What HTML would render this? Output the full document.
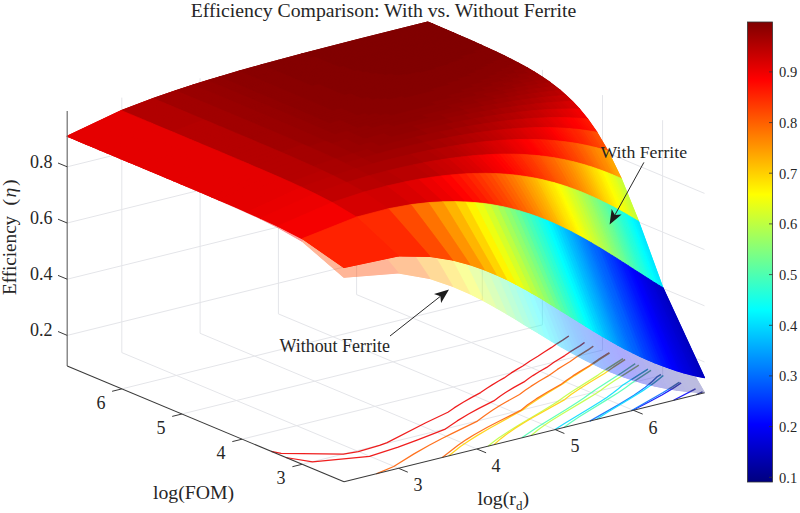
<!DOCTYPE html>
<html lang="en"><head><meta charset="utf-8"><title>Efficiency Comparison: With vs. Without Ferrite</title>
<style>html,body{margin:0;padding:0;background:#fff;}body{width:800px;height:513px;overflow:hidden;position:relative;font-family:"Liberation Serif",serif;}</style>
</head><body>
<svg width="800" height="513" viewBox="0 0 800 513" style="position:absolute;left:0;top:0">
<rect width="800" height="513" fill="#fff"/>
<g id="grid"><line x1="302.1" y1="464.3" x2="662.6" y2="375.2" stroke="#e4e5e9" stroke-width="1"/><line x1="398.6" y1="468.3" x2="121.8" y2="352.6" stroke="#e4e5e9" stroke-width="1"/><line x1="121.8" y1="352.6" x2="121.8" y2="97.6" stroke="#e4e5e9" stroke-width="1"/><line x1="662.6" y1="375.2" x2="662.6" y2="120.2" stroke="#e4e5e9" stroke-width="1"/><line x1="242.0" y1="439.2" x2="602.5" y2="350.1" stroke="#e4e5e9" stroke-width="1"/><line x1="476.9" y1="449.0" x2="200.1" y2="333.3" stroke="#e4e5e9" stroke-width="1"/><line x1="200.1" y1="333.3" x2="200.1" y2="78.3" stroke="#e4e5e9" stroke-width="1"/><line x1="602.5" y1="350.1" x2="602.5" y2="95.1" stroke="#e4e5e9" stroke-width="1"/><line x1="181.9" y1="414.0" x2="542.4" y2="324.9" stroke="#e4e5e9" stroke-width="1"/><line x1="555.2" y1="429.6" x2="278.4" y2="313.9" stroke="#e4e5e9" stroke-width="1"/><line x1="278.4" y1="313.9" x2="278.4" y2="58.9" stroke="#e4e5e9" stroke-width="1"/><line x1="542.4" y1="324.9" x2="542.4" y2="69.9" stroke="#e4e5e9" stroke-width="1"/><line x1="121.8" y1="388.9" x2="482.3" y2="299.8" stroke="#e4e5e9" stroke-width="1"/><line x1="633.4" y1="410.3" x2="356.6" y2="294.6" stroke="#e4e5e9" stroke-width="1"/><line x1="356.6" y1="294.6" x2="356.6" y2="39.6" stroke="#e4e5e9" stroke-width="1"/><line x1="482.3" y1="299.8" x2="482.3" y2="44.8" stroke="#e4e5e9" stroke-width="1"/><line x1="67.2" y1="335.4" x2="427.7" y2="246.3" stroke="#e4e5e9" stroke-width="1"/><line x1="427.7" y1="246.3" x2="704.5" y2="362.0" stroke="#e4e5e9" stroke-width="1"/><line x1="67.2" y1="279.2" x2="427.7" y2="190.1" stroke="#e4e5e9" stroke-width="1"/><line x1="427.7" y1="190.1" x2="704.5" y2="305.8" stroke="#e4e5e9" stroke-width="1"/><line x1="67.2" y1="223.0" x2="427.7" y2="133.9" stroke="#e4e5e9" stroke-width="1"/><line x1="427.7" y1="133.9" x2="704.5" y2="249.6" stroke="#e4e5e9" stroke-width="1"/><line x1="67.2" y1="166.8" x2="427.7" y2="77.7" stroke="#e4e5e9" stroke-width="1"/><line x1="427.7" y1="77.7" x2="704.5" y2="193.4" stroke="#e4e5e9" stroke-width="1"/></g>
<g id="contours"><g fill="none" stroke-width="1.25" stroke-linejoin="round" stroke-linecap="butt" opacity="0.88"><path d="M702.5 391.9 696.1 394.8" stroke="#00008a"/><path d="M681.1 382.9 672.1 388.9 661.9 395.0 649.4 401.8 632.3 410.5" stroke="#0000fa"/><path d="M660.9 374.5 657.2 376.7 652.0 381.7 645.3 387.3 639.7 391.3 633.9 395.3 627.0 399.6 618.7 404.6 589.8 421.1" stroke="#006cff"/><path d="M647.9 369.1 622.5 385.3 618.4 388.8 613.2 392.8 607.1 397.2 601.0 401.2 590.5 407.8 564.5 423.5 554.6 429.8" stroke="#00dcff"/><path d="M635.2 363.7 621.4 373.0 595.4 389.8 590.5 393.2 583.5 398.3 577.5 402.3 566.5 409.3 539.2 426.0 531.7 430.9 521.8 437.8" stroke="#4dffb2"/><path d="M623.0 358.6 608.2 368.1 598.0 375.1 571.6 391.8 564.3 396.8 558.3 401.1 553.8 404.0 542.0 411.3 518.4 425.3 509.2 431.0 498.6 438.1 492.6 442.6 488.1 446.2" stroke="#beff41"/><path d="M609.6 353.0 599.2 359.7 591.1 365.3 574.7 375.6 568.5 379.8 563.0 383.8 548.9 392.1 537.4 399.4 528.4 405.6 522.7 409.9 489.6 428.3 476.6 435.9 469.0 440.7 460.4 446.6 448.6 455.9" stroke="#ffd000"/><path d="M593.3 346.2 588.0 349.9 577.2 356.6 570.2 361.5 563.2 365.7 557.4 369.4 548.2 375.9 539.0 381.3 530.9 386.4 525.5 390.1 519.5 394.5 506.0 402.0 499.5 405.8 492.4 410.3 484.5 415.7 477.4 421.1 451.8 433.6 441.5 438.7 429.2 445.2 414.0 453.9 393.7 466.5 376.3 473.8" stroke="#ff5f00"/><path d="M568.8 336.0 563.2 339.8 556.1 344.3 551.6 347.4 543.9 352.2 538.3 356.0 529.7 361.2 522.8 366.0 517.4 369.1 511.3 372.9 504.2 377.9 498.6 381.0 491.8 385.1 486.9 388.2 480.6 392.6 471.3 397.6 463.2 402.2 454.1 407.9 447.9 412.2 425.8 422.7 387.1 442.6 379.6 445.3 358.3 451.7 343.4 454.2 281.1 453.4 271.1 451.3" stroke="#ee0000"/><path d="M695.5 388.9 673.6 400.3" stroke="#0000fa"/><path d="M679.4 382.2 672.1 387.0 663.1 392.5 631.2 410.8" stroke="#006cff"/><path d="M663.3 375.5 658.9 379.1 654.3 382.7 648.9 386.6 643.3 390.4 632.0 397.5 606.7 412.8 596.2 419.5" stroke="#00dcff"/><path d="M651.0 370.3 635.0 380.8 625.1 387.9 618.1 392.7 609.5 398.1 579.2 416.8 570.0 423.0 563.9 427.4" stroke="#4dffb2"/><path d="M638.8 365.2 613.5 381.3 605.8 386.5 599.8 390.9 594.4 394.4 584.7 400.4 561.6 414.2 551.1 420.8 545.1 424.8 538.5 429.6 531.1 435.6" stroke="#beff41"/><path d="M625.1 359.5 613.6 367.0 604.4 373.5 589.1 382.7 578.9 389.2 571.0 394.6 564.7 399.6 530.6 418.8 523.2 423.2 514.9 428.4 505.6 434.9 500.5 438.9 493.9 444.8" stroke="#ffd000"/><path d="M609.1 352.8 598.6 359.4 589.8 365.6 580.5 371.1 572.9 375.9 566.6 380.2 561.5 384.1 547.9 391.7 536.2 398.9 527.3 405.1 520.7 410.4 498.5 421.5 487.4 427.3 474.1 434.8 466.3 439.6 457.7 445.5 442.3 457.5" stroke="#ff5f00"/><path d="M584.5 342.5 580.1 345.7 571.1 351.2 564.8 355.6 554.3 362.0 546.7 367.4 539.5 371.5 532.9 375.6 528.6 378.5 524.0 381.9 514.0 387.4 504.8 393.0 499.7 396.4 493.7 400.9 478.4 408.6 468.6 414.0 457.2 420.9 445.3 429.1 417.0 440.1 398.1 447.2 369.5 456.4 312.5 461.9 285.7 457.5" stroke="#ee0000"/></g></g>
<g id="without" opacity="0.4"><g transform="scale(0.1)" stroke-width="12.0" stroke-linejoin="round"><path fill="#810000" stroke="#810000" d="M3142 543l542-140 643-160-50-22-643 161-542 140z"/><path fill="#850000" stroke="#850000" d="M2667 670l475-127-50-21-475 127z"/><path fill="#890000" stroke="#890000" d="M2442 734l225-64-50-21-225 64z"/><path fill="#8d0000" stroke="#8d0000" d="M2245 791l197-57-50-21-197 57z"/><path fill="#910000" stroke="#910000" d="M2125 827l120-36-50-21-120 36z"/><path fill="#950000" stroke="#950000" d="M1982 871l143-44-50-21-143 44z"/><path fill="#990000" stroke="#990000" d="M1807 928l175-57-50-21-175 57z"/><path fill="#a10000" stroke="#a10000" d="M1582 1006l225-78-50-21-225 78z"/><path fill="#b10000" stroke="#b10000" d="M1265 1127l317-121-50-21-317 121z"/><path fill="#e50000" stroke="#e50000" d="M722 1383l543-256-50-21-543 256z"/><path fill="#810000" stroke="#810000" d="M3211 572l543-140 642-160-69-29-643 160-542 140z"/><path fill="#e50000" stroke="#e50000" d="M791 1412l543-256-69-29-543 256z"/><path fill="#810000" stroke="#810000" d="M3281 601l542-139 643-159-70-31-642 160-543 140z"/><path fill="#e50000" stroke="#e50000" d="M861 1441l543-256-70-29-543 256z"/><path fill="#810000" stroke="#810000" d="M3351 631l542-139 643-159-70-30-643 159-542 139z"/><path fill="#e50000" stroke="#e50000" d="M931 1470l543-255-70-30-543 256z"/><path fill="#810000" stroke="#810000" d="M3487 642l543-138 574-140-68-31-575 142-542 138z"/><path fill="#e50000" stroke="#e50000" d="M999 1499l543-256-68-28-543 255z"/><path fill="#810000" stroke="#810000" d="M3553 670l542-137 575-140-66-29-574 140-543 138z"/><path fill="#e50000" stroke="#e50000" d="M1065 1526l543-255-66-28-543 256z"/><path fill="#850000" stroke="#850000" d="M4607 459l137-32-74-34-136 33z"/><path fill="#e50000" stroke="#e50000" d="M1139 1557l542-255-73-31-543 255z"/><path fill="#850000" stroke="#850000" d="M4386 559l427-100-69-32-427 102z"/><path fill="#e50000" stroke="#e50000" d="M1208 1586l543-255-70-29-542 255z"/><path fill="#850000" stroke="#850000" d="M3352 876l739-191 451-108 349-80-78-38-800 192-739 191z"/><path fill="#e50000" stroke="#e50000" d="M1286 1619l543-256-78-32-543 255z"/><path fill="#890000" stroke="#890000" d="M4757 577l205-45-71-35-205 46z"/><path fill="#e50000" stroke="#e50000" d="M1357 1648l542-255-70-30-543 256z"/><path fill="#8d0000" stroke="#8d0000" d="M4977 587l65-13-80-42-65 14z"/><path fill="#e50000" stroke="#e50000" d="M1437 1682l543-255-81-34-542 255z"/><path fill="#8d0000" stroke="#8d0000" d="M4831 668l279-57-68-37-279 59z"/><path fill="#e50000" stroke="#e50000" d="M1505 1711l543-256-68-28-543 255zM1582 1743l543-255-77-33-543 256zM1670 1780l543-255-88-37-543 255zM1737 1808l543-255-67-28-543 255zM1812 1840l543-255-75-32-543 255zM1898 1876l543-254-86-37-543 255zM1999 1919l542-254-100-43-543 254zM2119 1970l543-252-121-53-542 254zM2190 2001l543-251-71-32-543 252zM2270 2036l543-250-80-36-543 251zM2363 2077l543-248-93-43-543 250z"/><path fill="#e90000" stroke="#e90000" d="M2473 2126l542-245-109-52-543 248zM2607 2188l542-238-134-69-542 245z"/><path fill="#f10000" stroke="#f10000" d="M2780 2274l542-226-173-98-542 238z"/><path fill="#ff0200" stroke="#ff0200" d="M3023 2413l543-190-244-175-542 226z"/><path fill="#5959b3" stroke="#5959b3" d="M6980 3923l65 4-417-721-65-32z"/><path fill="#5757b7" stroke="#5757b7" d="M6909 3917l71 6-417-749-71-37z"/><path fill="#5454bb" stroke="#5454bb" d="M6840 3910l69 7-417-780-68-37z"/><path fill="#4f4fc1" stroke="#4f4fc1" d="M6766 3901l74 9-416-810-75-42z"/><path fill="#4b4bc8" stroke="#4b4bc8" d="M6696 3890l70 11-417-843-70-42z"/><path fill="#4747cf" stroke="#4747cf" d="M6619 3875l77 15-417-874-77-46z"/><path fill="#4141da" stroke="#4141da" d="M6548 3860l71 15-417-905-71-44z"/><path fill="#3d3de2" stroke="#3d3de2" d="M6470 3841l78 19-417-934-77-49z"/><path fill="#3737ee" stroke="#3737ee" d="M6402 3823l68 18-416-964-68-44z"/><path fill="#3131fa" stroke="#3131fa" d="M6328 3800l74 23-416-990-75-47z"/><path fill="#2a36ff" stroke="#2a36ff" d="M6245 3772l83 28-417-1014-82-53z"/><path fill="#243eff" stroke="#243eff" d="M6177 3747l68 25-416-1039-69-43z"/><path fill="#1d49ff" stroke="#1d49ff" d="M6103 3717l74 30-417-1057-74-47z"/><path fill="#1458ff" stroke="#1458ff" d="M6020 3681l83 36-417-1074-83-50z"/><path fill="#0c69ff" stroke="#0c69ff" d="M5928 3638l92 43-417-1088-92-55z"/><path fill="#0578ff" stroke="#0578ff" d="M5860 3604l68 34-417-1100-68-39z"/><path fill="#008dff" stroke="#008dff" d="M5785 3565l75 39-417-1105-75-40z"/><path fill="#00a9ff" stroke="#00a9ff" d="M5703 3519l82 46-417-1106-82-43z"/><path fill="#00c5ff" stroke="#00c5ff" d="M5610 3467l93 52-417-1103-92-44z"/><path fill="#00e9ff" stroke="#00e9ff" d="M5506 3405l104 62-416-1095-105-46z"/><path fill="#12ffed" stroke="#12ffed" d="M5385 3331l121 74-417-1079-120-47z"/><path fill="#2affd5" stroke="#2affd5" d="M5317 3290l68 41-416-1052-69-23z"/><path fill="#46ffb9" stroke="#46ffb9" d="M5242 3244l75 46-417-1034-74-24z"/><path fill="#62ff9d" stroke="#62ff9d" d="M5160 3193l82 51-416-1012-83-22z"/><path fill="#81ff7e" stroke="#81ff7e" d="M5068 3138l92 55-417-983-92-21z"/><path fill="#a5ff5a" stroke="#a5ff5a" d="M4963 3077l105 61-417-949-104-19z"/><path fill="#c9ff36" stroke="#c9ff36" d="M4843 3010l120 67-416-907-121-16z"/><path fill="#f5ff0a" stroke="#f5ff0a" d="M4700 2937l143 73-417-856-143-9z"/><path fill="#ffd900" stroke="#ffd900" d="M4525 2861l175 76-417-792-174 0z"/><path fill="#ffa500" stroke="#ffa500" d="M4300 2785l225 76-416-716-226 18z"/><path fill="#ff6e00" stroke="#ff6e00" d="M3983 2728l317 57-417-622-317 60z"/><path fill="#ff4a00" stroke="#ff4a00" d="M3440 2772l543-44-417-505-543 190z"/></g><g transform="scale(0.1)" stroke-width="7.0" stroke-linejoin="round"><path fill="#810000" stroke="#810000" d="M3067 536l543-140 679-170-12-5-679 170-543 140z"/><path fill="#850000" stroke="#850000" d="M2629 654l438-118-12-5-438 118z"/><path fill="#890000" stroke="#890000" d="M2404 718l225-64-12-5-225 64z"/><path fill="#8d0000" stroke="#8d0000" d="M2207 775l197-57-12-5-197 57z"/><path fill="#910000" stroke="#910000" d="M2087 811l120-36-12-5-120 36z"/><path fill="#950000" stroke="#950000" d="M1944 855l143-44-12-5-143 44z"/><path fill="#990000" stroke="#990000" d="M1769 912l175-57-12-5-175 57z"/><path fill="#a10000" stroke="#a10000" d="M1544 990l225-78-12-5-225 78z"/><path fill="#b10000" stroke="#b10000" d="M1227 1111l317-121-12-5-317 121z"/><path fill="#e50000" stroke="#e50000" d="M684 1367l543-256-12-5-543 256z"/><path fill="#810000" stroke="#810000" d="M3086 544l579-149 643-161-19-8-679 170-543 140z"/><path fill="#850000" stroke="#850000" d="M2648 662l438-118-19-8-438 118z"/><path fill="#890000" stroke="#890000" d="M2423 725l225-63-19-8-225 64z"/><path fill="#8d0000" stroke="#8d0000" d="M2226 783l197-58-19-7-197 57z"/><path fill="#910000" stroke="#910000" d="M2105 819l121-36-19-8-120 36z"/><path fill="#950000" stroke="#950000" d="M1963 863l142-44-18-8-143 44z"/><path fill="#990000" stroke="#990000" d="M1788 920l175-57-19-8-175 57z"/><path fill="#a10000" stroke="#a10000" d="M1563 998l225-78-19-8-225 78z"/><path fill="#b10000" stroke="#b10000" d="M1245 1119l318-121-19-8-317 121z"/><path fill="#e50000" stroke="#e50000" d="M703 1375l542-256-18-8-543 256z"/><path fill="#810000" stroke="#810000" d="M3105 552l579-149 643-160-19-9-643 161-579 149z"/><path fill="#850000" stroke="#850000" d="M2667 670l438-118-19-8-438 118z"/><path fill="#990000" stroke="#990000" d="M1807 928l175-57-19-8-175 57z"/><path fill="#a10000" stroke="#a10000" d="M1582 1006l225-78-19-8-225 78z"/><path fill="#e50000" stroke="#e50000" d="M722 1383l543-256-20-8-542 256z"/><path fill="#810000" stroke="#810000" d="M3125 561l579-149 643-161-20-8-643 160-579 149z"/><path fill="#e50000" stroke="#e50000" d="M742 1391l543-255-20-9-543 256z"/><path fill="#810000" stroke="#810000" d="M3146 569l579-149 643-160-21-9-643 161-579 149z"/><path fill="#e50000" stroke="#e50000" d="M763 1400l542-256-20-8-543 255z"/><path fill="#810000" stroke="#810000" d="M3167 578l579-149 643-160-21-9-643 160-579 149z"/><path fill="#e50000" stroke="#e50000" d="M784 1409l543-256-22-9-542 256z"/><path fill="#810000" stroke="#810000" d="M3189 588l579-149 643-160-22-10-643 160-579 149z"/><path fill="#e50000" stroke="#e50000" d="M806 1418l543-256-22-9-543 256z"/><path fill="#810000" stroke="#810000" d="M3212 597l579-149 643-159-23-10-643 160-579 149z"/><path fill="#e50000" stroke="#e50000" d="M829 1428l543-256-23-10-543 256z"/><path fill="#810000" stroke="#810000" d="M3236 608l579-149 643-160-24-10-643 159-579 149z"/><path fill="#e50000" stroke="#e50000" d="M853 1438l543-256-24-10-543 256z"/><path fill="#810000" stroke="#810000" d="M3298 608l577-148 608-150-25-11-608 151-577 148z"/><path fill="#e50000" stroke="#e50000" d="M878 1448l542-256-24-10-543 256z"/><path fill="#810000" stroke="#810000" d="M3324 619l577-147 608-151-26-11-608 150-577 148z"/><path fill="#e50000" stroke="#e50000" d="M904 1459l542-256-26-11-542 256z"/><path fill="#810000" stroke="#810000" d="M3351 631l577-148 608-150-27-12-608 151-577 147z"/><path fill="#e50000" stroke="#e50000" d="M931 1470l543-255-28-12-542 256z"/><path fill="#810000" stroke="#810000" d="M3369 639l578-148 608-150-19-8-608 150-577 148z"/><path fill="#e50000" stroke="#e50000" d="M950 1478l542-256-18-7-543 255z"/><path fill="#810000" stroke="#810000" d="M3389 647l577-147 608-150-19-9-608 150-578 148z"/><path fill="#e50000" stroke="#e50000" d="M969 1486l543-255-20-9-542 256z"/><path fill="#810000" stroke="#810000" d="M3444 646l576-146 574-141-20-9-608 150-542 138z"/><path fill="#e50000" stroke="#e50000" d="M989 1495l543-256-20-8-543 255z"/><path fill="#810000" stroke="#810000" d="M3464 655l576-146 575-141-21-9-574 141-576 146z"/><path fill="#e50000" stroke="#e50000" d="M1010 1503l542-255-20-9-543 256z"/><path fill="#810000" stroke="#810000" d="M3486 664l576-146 574-140-21-10-575 141-576 146z"/><path fill="#e50000" stroke="#e50000" d="M1031 1512l543-255-22-9-542 255z"/><path fill="#810000" stroke="#810000" d="M3541 665l543-137 575-140-23-10-574 140-543 138z"/><path fill="#e50000" stroke="#e50000" d="M1054 1522l542-256-22-9-543 255z"/><path fill="#810000" stroke="#810000" d="M3565 675l542-137 575-140-23-10-575 140-543 137z"/><path fill="#e50000" stroke="#e50000" d="M1077 1531l542-255-23-10-542 256z"/><path fill="#810000" stroke="#810000" d="M3621 677l542-137 543-131-24-11-543 132-542 137z"/><path fill="#e50000" stroke="#e50000" d="M1101 1541l542-255-24-10-542 255z"/><path fill="#850000" stroke="#850000" d="M4666 436l65-15-25-12-66 16z"/><path fill="#e50000" stroke="#e50000" d="M1126 1552l542-256-25-10-542 255z"/><path fill="#850000" stroke="#850000" d="M4582 474l175-41-26-12-175 41z"/><path fill="#e50000" stroke="#e50000" d="M1152 1563l543-256-27-11-542 256z"/><path fill="#850000" stroke="#850000" d="M4505 511l279-66-27-12-279 66z"/><path fill="#e50000" stroke="#e50000" d="M1179 1574l543-255-27-12-543 256z"/><path fill="#850000" stroke="#850000" d="M4386 559l427-100-29-14-426 102z"/><path fill="#e50000" stroke="#e50000" d="M1208 1586l543-255-29-12-543 255z"/><path fill="#850000" stroke="#850000" d="M4200 625l341-82 302-70-30-14-302 71-341 82z"/><path fill="#e50000" stroke="#e50000" d="M1238 1599l543-256-30-12-543 255z"/><path fill="#850000" stroke="#850000" d="M3277 884l376-99 422-107 425-103 375-86-32-16-374 88-426 103-422 107-375 100z"/><path fill="#e50000" stroke="#e50000" d="M1270 1612l542-256-31-13-543 256z"/><path fill="#890000" stroke="#890000" d="M4868 514l40-9-33-16-41 9z"/><path fill="#e50000" stroke="#e50000" d="M1303 1626l543-256-34-14-542 256z"/><path fill="#890000" stroke="#890000" d="M4798 555l145-33-35-17-146 33z"/><path fill="#e50000" stroke="#e50000" d="M1338 1641l543-256-35-15-543 256z"/><path fill="#890000" stroke="#890000" d="M4767 575l195-43-19-10-194 44z"/><path fill="#e50000" stroke="#e50000" d="M1357 1648l542-255-18-8-543 256z"/><path fill="#890000" stroke="#890000" d="M4724 598l257-56-19-10-257 57z"/><path fill="#e50000" stroke="#e50000" d="M1376 1656l543-255-20-8-542 255zM1396 1665l542-256-19-8-543 255zM1416 1673l543-255-21-9-542 256zM1437 1682l543-255-21-9-543 255zM1459 1691l543-255-22-9-543 255z"/><path fill="#8d0000" stroke="#8d0000" d="M4872 642l215-44-23-13-215 45z"/><path fill="#e50000" stroke="#e50000" d="M1482 1701l542-256-22-9-543 255z"/><path fill="#910000" stroke="#910000" d="M5070 619l40-8-23-13-40 8z"/><path fill="#e50000" stroke="#e50000" d="M1505 1711l543-256-24-10-542 256zM1530 1721l542-255-24-11-543 256zM1555 1732l543-255-26-11-542 255zM1582 1743l543-255-27-11-543 255zM1610 1755l543-255-28-12-543 255zM1639 1767l543-255-29-12-543 255zM1670 1780l543-255-31-13-543 255zM1703 1794l542-255-32-14-543 255zM1737 1808l543-255-35-14-542 255zM1773 1823l543-254-36-16-543 255zM1812 1840l543-255-39-16-543 254zM1854 1857l542-254-41-18-543 255zM1898 1876l543-254-45-19-542 254zM1946 1897l543-254-48-21-543 254zM1999 1919l542-254-52-22-543 254zM2056 1943l543-253-58-25-542 254zM2119 1970l543-252-63-28-543 253zM2190 2001l543-251-71-32-543 252zM2270 2036l543-250-80-36-543 251zM2363 2077l543-248-93-43-543 250z"/><path fill="#e90000" stroke="#e90000" d="M2473 2126l542-245-109-52-543 248zM2607 2188l542-238-134-69-542 245z"/><path fill="#f10000" stroke="#f10000" d="M2780 2274l542-226-173-98-542 238z"/><path fill="#ff0200" stroke="#ff0200" d="M3023 2413l543-190-244-175-542 226z"/><path fill="#5959ad" stroke="#5959ad" d="M7029 3926l16 1-417-721-15-7z"/><path fill="#5959b0" stroke="#5959b0" d="M7005 3925l24 1-416-727-25-12z"/><path fill="#5959b3" stroke="#5959b3" d="M6954 3921l51 4-417-738-51-26z"/><path fill="#5858b5" stroke="#5858b5" d="M6927 3919l27 2-417-760-27-14z"/><path fill="#5757b7" stroke="#5757b7" d="M6899 3917l28 2-417-772-27-15z"/><path fill="#5555b9" stroke="#5555b9" d="M6870 3914l29 3-416-785-29-16z"/><path fill="#5454bb" stroke="#5454bb" d="M6851 3912l19 2-416-798-20-10z"/><path fill="#5252bd" stroke="#5252bd" d="M6809 3907l42 5-417-806-41-24z"/><path fill="#5151bf" stroke="#5151bf" d="M6788 3904l21 3-416-825-22-12z"/><path fill="#4f4fc1" stroke="#4f4fc1" d="M6766 3901l22 3-417-834-22-12z"/><path fill="#4e4ec4" stroke="#4e4ec4" d="M6743 3897l23 4-417-843-23-14z"/><path fill="#4c4cc6" stroke="#4c4cc6" d="M6720 3894l23 3-417-853-23-13z"/><path fill="#4b4bc8" stroke="#4b4bc8" d="M6696 3890l24 4-417-863-24-15z"/><path fill="#4a4acb" stroke="#4a4acb" d="M6671 3885l25 5-417-874-25-15z"/><path fill="#4848cd" stroke="#4848cd" d="M6645 3881l26 4-417-884-26-15z"/><path fill="#4747cf" stroke="#4747cf" d="M6619 3875l26 6-417-895-26-16z"/><path fill="#4444d5" stroke="#4444d5" d="M6591 3870l28 5-417-905-28-17z"/><path fill="#4242d7" stroke="#4242d7" d="M6563 3864l28 6-417-917-28-18z"/><path fill="#4141da" stroke="#4141da" d="M6533 3857l30 7-417-929-30-19z"/><path fill="#3e3edf" stroke="#3e3edf" d="M6502 3850l31 7-417-941-30-19z"/><path fill="#3d3de2" stroke="#3d3de2" d="M6470 3841l32 9-416-953-32-20z"/><path fill="#3a3ae8" stroke="#3a3ae8" d="M6437 3832l33 9-416-964-34-21z"/><path fill="#3737ee" stroke="#3737ee" d="M6402 3823l35 9-417-976-34-23z"/><path fill="#3434f4" stroke="#3434f4" d="M6366 3812l36 11-416-990-37-23z"/><path fill="#3131fa" stroke="#3131fa" d="M6328 3800l38 12-417-1002-38-24z"/><path fill="#3030fd" stroke="#3030fd" d="M6308 3793l20 7-417-1014-20-13z"/><path fill="#2e30ff" stroke="#2e30ff" d="M6288 3787l20 6-417-1020-20-13z"/><path fill="#2b34ff" stroke="#2b34ff" d="M6267 3779l21 8-417-1027-21-13z"/><path fill="#2a36ff" stroke="#2a36ff" d="M6245 3772l22 7-417-1032-21-14z"/><path fill="#2938ff" stroke="#2938ff" d="M6223 3764l22 8-416-1039-22-14z"/><path fill="#263cff" stroke="#263cff" d="M6200 3755l23 9-416-1045-23-15z"/><path fill="#243eff" stroke="#243eff" d="M6177 3747l23 8-416-1051-24-14z"/><path fill="#2142ff" stroke="#2142ff" d="M6153 3737l24 10-417-1057-24-16z"/><path fill="#2044ff" stroke="#2044ff" d="M6128 3727l25 10-417-1063-24-15z"/><path fill="#1d49ff" stroke="#1d49ff" d="M6103 3717l25 10-416-1068-26-16z"/><path fill="#1a4eff" stroke="#1a4eff" d="M6076 3705l27 12-417-1074-27-16z"/><path fill="#1753ff" stroke="#1753ff" d="M6049 3693l27 12-417-1078-27-17z"/><path fill="#1458ff" stroke="#1458ff" d="M6020 3681l29 12-417-1083-29-17z"/><path fill="#115eff" stroke="#115eff" d="M5990 3667l30 14-417-1088-29-18z"/><path fill="#0f63ff" stroke="#0f63ff" d="M5960 3653l30 14-416-1092-31-18z"/><path fill="#0c69ff" stroke="#0c69ff" d="M5928 3638l32 15-417-1096-32-19z"/><path fill="#0772ff" stroke="#0772ff" d="M5895 3621l33 17-417-1100-33-19z"/><path fill="#0578ff" stroke="#0578ff" d="M5860 3604l35 17-417-1102-35-20z"/><path fill="#0082ff" stroke="#0082ff" d="M5823 3585l37 19-417-1105-36-20z"/><path fill="#008dff" stroke="#008dff" d="M5785 3565l38 20-416-1106-39-20z"/><path fill="#0099ff" stroke="#0099ff" d="M5745 3543l40 22-417-1106-40-21z"/><path fill="#00a9ff" stroke="#00a9ff" d="M5703 3519l42 24-417-1105-42-22z"/><path fill="#00b5ff" stroke="#00b5ff" d="M5658 3494l45 25-417-1103-45-22z"/><path fill="#00c5ff" stroke="#00c5ff" d="M5610 3467l48 27-417-1100-47-22z"/><path fill="#00d9ff" stroke="#00d9ff" d="M5560 3437l50 30-416-1095-51-23z"/><path fill="#00e9ff" stroke="#00e9ff" d="M5506 3405l54 32-417-1088-54-23z"/><path fill="#00fdff" stroke="#00fdff" d="M5448 3370l58 35-417-1079-58-24z"/><path fill="#12ffed" stroke="#12ffed" d="M5385 3331l63 39-417-1068-62-23z"/><path fill="#2affd5" stroke="#2affd5" d="M5317 3290l68 41-416-1052-69-23z"/><path fill="#46ffb9" stroke="#46ffb9" d="M5242 3244l75 46-417-1034-74-24z"/><path fill="#62ff9d" stroke="#62ff9d" d="M5160 3193l82 51-416-1012-83-22z"/><path fill="#81ff7e" stroke="#81ff7e" d="M5068 3138l92 55-417-983-92-21z"/><path fill="#a5ff5a" stroke="#a5ff5a" d="M4963 3077l105 61-417-949-104-19z"/><path fill="#c9ff36" stroke="#c9ff36" d="M4843 3010l120 67-416-907-121-16z"/><path fill="#f5ff0a" stroke="#f5ff0a" d="M4700 2937l143 73-417-856-143-9z"/><path fill="#ffd900" stroke="#ffd900" d="M4525 2861l175 76-417-792-174 0z"/><path fill="#ffa500" stroke="#ffa500" d="M4300 2785l225 76-416-716-226 18z"/><path fill="#ff6e00" stroke="#ff6e00" d="M3983 2728l317 57-417-622-317 60z"/><path fill="#ff4a00" stroke="#ff4a00" d="M3440 2772l543-44-417-505-543 190z"/></g></g><clipPath id="lowclip"><polygon points="344.0,277.2 398.3,272.8 430.0,278.5 452.5,286.1 470.0,293.7 484.3,301.0 506.8,313.8 550.6,340.5 570.3,351.9 589.5,362.1 610.3,371.7 632.8,380.0 656.3,386.4 679.9,390.5 704.5,392.7 662.8,320.6 638.5,257.7 621.2,210.7 607.8,177.3 596.8,153.6 587.5,136.3 579.5,123.2 572.4,113.2 560.4,98.7 550.3,88.8 537.8,78.4 521.5,67.3 506.4,58.5 485.9,48.1 461.5,36.8 427.7,22.1 347.7,42.2 284.2,58.8 239.2,71.3 193.2,85.0 153.2,98.5 121.5,110.6 67.2,136.2 219.0,200.1 247.3,212.6 278.0,227.4 302.3,241.3 344.0,277.2"/></clipPath><g clip-path="url(#lowclip)"><g fill="none" stroke-width="1.5" stroke-linejoin="round" stroke-linecap="butt" opacity="0.38"><path d="M702.5 391.9 696.1 394.8" stroke="#3c3c44"/><path d="M681.1 382.9 672.1 388.9 661.9 395.0 649.4 401.8 632.3 410.5" stroke="#3c3c44"/><path d="M660.9 374.5 657.2 376.7 652.0 381.7 645.3 387.3 639.7 391.3 633.9 395.3 627.0 399.6 618.7 404.6 589.8 421.1" stroke="#3c3c44"/><path d="M647.9 369.1 622.5 385.3 618.4 388.8 613.2 392.8 607.1 397.2 601.0 401.2 590.5 407.8 564.5 423.5 554.6 429.8" stroke="#3c3c44"/><path d="M635.2 363.7 621.4 373.0 595.4 389.8 590.5 393.2 583.5 398.3 577.5 402.3 566.5 409.3 539.2 426.0 531.7 430.9 521.8 437.8" stroke="#3c3c44"/><path d="M623.0 358.6 608.2 368.1 598.0 375.1 571.6 391.8 564.3 396.8 558.3 401.1 553.8 404.0 542.0 411.3 518.4 425.3 509.2 431.0 498.6 438.1 492.6 442.6 488.1 446.2" stroke="#3c3c44"/><path d="M609.6 353.0 599.2 359.7 591.1 365.3 574.7 375.6 568.5 379.8 563.0 383.8 548.9 392.1 537.4 399.4 528.4 405.6 522.7 409.9 489.6 428.3 476.6 435.9 469.0 440.7 460.4 446.6 448.6 455.9" stroke="#3c3c44"/><path d="M593.3 346.2 588.0 349.9 577.2 356.6 570.2 361.5 563.2 365.7 557.4 369.4 548.2 375.9 539.0 381.3 530.9 386.4 525.5 390.1 519.5 394.5 506.0 402.0 499.5 405.8 492.4 410.3 484.5 415.7 477.4 421.1 451.8 433.6 441.5 438.7 429.2 445.2 414.0 453.9 393.7 466.5 376.3 473.8" stroke="#3c3c44"/><path d="M568.8 336.0 563.2 339.8 556.1 344.3 551.6 347.4 543.9 352.2 538.3 356.0 529.7 361.2 522.8 366.0 517.4 369.1 511.3 372.9 504.2 377.9 498.6 381.0 491.8 385.1 486.9 388.2 480.6 392.6 471.3 397.6 463.2 402.2 454.1 407.9 447.9 412.2 425.8 422.7 387.1 442.6 379.6 445.3 358.3 451.7 343.4 454.2 281.1 453.4 271.1 451.3" stroke="#3c3c44"/><path d="M695.5 388.9 673.6 400.3" stroke="#3c3c44"/><path d="M679.4 382.2 672.1 387.0 663.1 392.5 631.2 410.8" stroke="#3c3c44"/><path d="M663.3 375.5 658.9 379.1 654.3 382.7 648.9 386.6 643.3 390.4 632.0 397.5 606.7 412.8 596.2 419.5" stroke="#3c3c44"/><path d="M651.0 370.3 635.0 380.8 625.1 387.9 618.1 392.7 609.5 398.1 579.2 416.8 570.0 423.0 563.9 427.4" stroke="#3c3c44"/><path d="M638.8 365.2 613.5 381.3 605.8 386.5 599.8 390.9 594.4 394.4 584.7 400.4 561.6 414.2 551.1 420.8 545.1 424.8 538.5 429.6 531.1 435.6" stroke="#3c3c44"/><path d="M625.1 359.5 613.6 367.0 604.4 373.5 589.1 382.7 578.9 389.2 571.0 394.6 564.7 399.6 530.6 418.8 523.2 423.2 514.9 428.4 505.6 434.9 500.5 438.9 493.9 444.8" stroke="#3c3c44"/><path d="M609.1 352.8 598.6 359.4 589.8 365.6 580.5 371.1 572.9 375.9 566.6 380.2 561.5 384.1 547.9 391.7 536.2 398.9 527.3 405.1 520.7 410.4 498.5 421.5 487.4 427.3 474.1 434.8 466.3 439.6 457.7 445.5 442.3 457.5" stroke="#3c3c44"/><path d="M584.5 342.5 580.1 345.7 571.1 351.2 564.8 355.6 554.3 362.0 546.7 367.4 539.5 371.5 532.9 375.6 528.6 378.5 524.0 381.9 514.0 387.4 504.8 393.0 499.7 396.4 493.7 400.9 478.4 408.6 468.6 414.0 457.2 420.9 445.3 429.1 417.0 440.1 398.1 447.2 369.5 456.4 312.5 461.9 285.7 457.5" stroke="#3c3c44"/></g></g>
<g id="with"><g transform="scale(0.1)" stroke-width="12.0" stroke-linejoin="round"><path fill="#810000" stroke="#810000" d="M3067 562l543-140 717-181-50-21-717 180-543 141z"/><path fill="#850000" stroke="#850000" d="M2667 670l400-108-50-21-400 108z"/><path fill="#890000" stroke="#890000" d="M2442 733l225-63-50-21-225 63z"/><path fill="#8d0000" stroke="#8d0000" d="M2245 791l197-58-50-21-197 58z"/><path fill="#910000" stroke="#910000" d="M2125 827l120-36-50-21-120 36z"/><path fill="#950000" stroke="#950000" d="M1982 871l143-44-50-21-143 44z"/><path fill="#990000" stroke="#990000" d="M1807 928l175-57-50-21-175 57z"/><path fill="#a10000" stroke="#a10000" d="M1582 1006l225-78-50-21-225 78z"/><path fill="#b10000" stroke="#b10000" d="M1265 1127l317-121-50-21-317 121z"/><path fill="#e50000" stroke="#e50000" d="M722 1383l543-256-50-21-543 256z"/><path fill="#810000" stroke="#810000" d="M3211 572l543-140 642-161-69-30-643 162-542 140z"/><path fill="#850000" stroke="#850000" d="M2737 699l474-127-69-29-475 127z"/><path fill="#890000" stroke="#890000" d="M2511 762l226-63-70-29-225 63z"/><path fill="#8d0000" stroke="#8d0000" d="M2315 820l196-58-69-29-197 58z"/><path fill="#910000" stroke="#910000" d="M2194 856l121-36-70-29-120 36z"/><path fill="#950000" stroke="#950000" d="M2051 900l143-44-69-29-143 44z"/><path fill="#990000" stroke="#990000" d="M1876 957l175-57-69-29-175 57z"/><path fill="#a10000" stroke="#a10000" d="M1651 1035l225-78-69-29-225 78z"/><path fill="#b10000" stroke="#b10000" d="M1334 1156l317-121-69-29-317 121z"/><path fill="#e50000" stroke="#e50000" d="M791 1412l543-256-69-29-543 256z"/><path fill="#810000" stroke="#810000" d="M3281 601l542-140 643-160-70-30-642 161-543 140z"/><path fill="#850000" stroke="#850000" d="M2806 728l475-127-70-29-474 127z"/><path fill="#890000" stroke="#890000" d="M2581 792l225-64-69-29-226 63z"/><path fill="#8d0000" stroke="#8d0000" d="M2384 849l197-57-70-30-196 58z"/><path fill="#910000" stroke="#910000" d="M2264 885l120-36-69-29-121 36z"/><path fill="#950000" stroke="#950000" d="M2121 929l143-44-70-29-143 44z"/><path fill="#990000" stroke="#990000" d="M1946 986l175-57-70-29-175 57z"/><path fill="#a10000" stroke="#a10000" d="M1721 1064l225-78-70-29-225 78z"/><path fill="#b10000" stroke="#b10000" d="M1404 1185l317-121-70-29-317 121z"/><path fill="#e50000" stroke="#e50000" d="M861 1441l543-256-70-29-543 256z"/><path fill="#810000" stroke="#810000" d="M3351 630l542-139 643-161-70-29-643 160-542 140z"/><path fill="#850000" stroke="#850000" d="M2876 758l475-128-70-29-475 127z"/><path fill="#890000" stroke="#890000" d="M2651 821l225-63-70-30-225 64z"/><path fill="#8d0000" stroke="#8d0000" d="M2454 878l197-57-70-29-197 57z"/><path fill="#910000" stroke="#910000" d="M2334 914l120-36-70-29-120 36z"/><path fill="#950000" stroke="#950000" d="M2191 959l143-45-70-29-143 44z"/><path fill="#990000" stroke="#990000" d="M2016 1015l175-56-70-30-175 57z"/><path fill="#a10000" stroke="#a10000" d="M1791 1093l225-78-70-29-225 78z"/><path fill="#b10000" stroke="#b10000" d="M1474 1215l317-122-70-29-317 121z"/><path fill="#e50000" stroke="#e50000" d="M931 1470l543-255-70-30-543 256z"/><path fill="#810000" stroke="#810000" d="M3419 659l543-139 642-160-68-30-643 161-542 139z"/><path fill="#850000" stroke="#850000" d="M2945 786l474-127-68-29-475 128z"/><path fill="#890000" stroke="#890000" d="M2719 850l226-64-69-28-225 63z"/><path fill="#8d0000" stroke="#8d0000" d="M2523 907l196-57-68-29-197 57z"/><path fill="#910000" stroke="#910000" d="M2402 943l121-36-69-29-120 36z"/><path fill="#950000" stroke="#950000" d="M2259 987l143-44-68-29-143 45z"/><path fill="#990000" stroke="#990000" d="M2085 1044l174-57-68-28-175 56z"/><path fill="#a10000" stroke="#a10000" d="M1859 1122l226-78-69-29-225 78z"/><path fill="#b10000" stroke="#b10000" d="M1542 1243l317-121-68-29-317 122z"/><path fill="#e50000" stroke="#e50000" d="M999 1499l543-256-68-28-543 255z"/><path fill="#810000" stroke="#810000" d="M3485 687l542-139 643-159-66-29-642 160-543 139z"/><path fill="#850000" stroke="#850000" d="M3010 814l475-127-66-28-474 127z"/><path fill="#890000" stroke="#890000" d="M2785 877l225-63-65-28-226 64z"/><path fill="#8d0000" stroke="#8d0000" d="M2588 934l197-57-66-27-196 57z"/><path fill="#910000" stroke="#910000" d="M2468 971l120-37-65-27-121 36z"/><path fill="#950000" stroke="#950000" d="M2325 1015l143-44-66-28-143 44z"/><path fill="#990000" stroke="#990000" d="M2150 1071l175-56-66-28-174 57z"/><path fill="#a10000" stroke="#a10000" d="M1925 1149l225-78-65-27-226 78z"/><path fill="#b10000" stroke="#b10000" d="M1608 1271l317-122-66-27-317 121z"/><path fill="#e50000" stroke="#e50000" d="M1065 1526l543-255-66-28-543 256z"/><path fill="#810000" stroke="#810000" d="M3627 700l542-138 575-141-74-32-575 142-542 138z"/><path fill="#850000" stroke="#850000" d="M3084 845l543-145-74-31-543 145z"/><path fill="#890000" stroke="#890000" d="M2859 908l225-63-74-31-225 63z"/><path fill="#8d0000" stroke="#8d0000" d="M2662 965l197-57-74-31-197 57z"/><path fill="#910000" stroke="#910000" d="M2541 1001l121-36-74-31-120 37z"/><path fill="#950000" stroke="#950000" d="M2399 1046l142-45-73-30-143 44z"/><path fill="#990000" stroke="#990000" d="M2224 1102l175-56-74-31-175 56z"/><path fill="#a10000" stroke="#a10000" d="M1999 1180l225-78-74-31-225 78z"/><path fill="#b10000" stroke="#b10000" d="M1681 1301l318-121-74-31-317 122z"/><path fill="#e50000" stroke="#e50000" d="M1139 1557l542-256-73-30-543 255z"/><path fill="#810000" stroke="#810000" d="M3696 730l542-138 575-140-69-31-575 141-542 138z"/><path fill="#850000" stroke="#850000" d="M3274 841l422-111-69-30-422 112z"/><path fill="#890000" stroke="#890000" d="M2928 937l346-96-69-29-346 96z"/><path fill="#8d0000" stroke="#8d0000" d="M2731 994l197-57-69-29-197 57z"/><path fill="#910000" stroke="#910000" d="M2611 1031l120-37-69-29-121 36z"/><path fill="#950000" stroke="#950000" d="M2468 1075l143-44-70-30-142 45z"/><path fill="#990000" stroke="#990000" d="M2293 1131l175-56-69-29-175 56z"/><path fill="#a10000" stroke="#a10000" d="M2068 1209l225-78-69-29-225 78z"/><path fill="#b50000" stroke="#b50000" d="M1751 1330l317-121-69-29-318 121z"/><path fill="#e50000" stroke="#e50000" d="M1208 1586l543-256-70-29-542 256z"/><path fill="#850000" stroke="#850000" d="M4826 503l65-15-78-36-65 16z"/><path fill="#810000" stroke="#810000" d="M3866 739l451-113 509-123-78-35-960 238z"/><path fill="#850000" stroke="#850000" d="M3352 874l514-135-78-33-514 135z"/><path fill="#890000" stroke="#890000" d="M3006 970l346-96-78-33-346 96z"/><path fill="#8d0000" stroke="#8d0000" d="M2809 1027l197-57-78-33-197 57z"/><path fill="#910000" stroke="#910000" d="M2689 1063l120-36-78-33-120 37z"/><path fill="#950000" stroke="#950000" d="M2546 1108l143-45-78-32-143 44z"/><path fill="#990000" stroke="#990000" d="M2371 1164l175-56-78-33-175 56z"/><path fill="#a10000" stroke="#a10000" d="M2146 1242l225-78-78-33-225 78z"/><path fill="#b50000" stroke="#b50000" d="M1829 1363l317-121-78-33-317 121z"/><path fill="#e50000" stroke="#e50000" d="M1286 1619l543-256-78-33-543 256z"/><path fill="#850000" stroke="#850000" d="M4613 603l349-82-71-33-349 83z"/><path fill="#810000" stroke="#810000" d="M4019 749l594-146-71-32-593 147z"/><path fill="#850000" stroke="#850000" d="M3423 904l596-155-70-31-597 156z"/><path fill="#890000" stroke="#890000" d="M3077 1000l346-96-71-30-346 96z"/><path fill="#8d0000" stroke="#8d0000" d="M2880 1057l197-57-71-30-197 57z"/><path fill="#910000" stroke="#910000" d="M2759 1093l121-36-71-30-120 36z"/><path fill="#950000" stroke="#950000" d="M2617 1137l142-44-70-30-143 45z"/><path fill="#990000" stroke="#990000" d="M2442 1194l175-57-71-29-175 56z"/><path fill="#a10000" stroke="#a10000" d="M2217 1271l225-77-71-30-225 78z"/><path fill="#b50000" stroke="#b50000" d="M1899 1393l318-122-71-29-317 121z"/><path fill="#e50000" stroke="#e50000" d="M1357 1648l542-255-70-30-543 256z"/><path fill="#850000" stroke="#850000" d="M3503 939l739-191 451-108 349-81-80-38-800 192-739 191z"/><path fill="#890000" stroke="#890000" d="M3157 1034l346-95-80-35-346 96z"/><path fill="#8d0000" stroke="#8d0000" d="M2960 1091l197-57-80-34-197 57z"/><path fill="#910000" stroke="#910000" d="M2840 1127l120-36-80-34-121 36z"/><path fill="#950000" stroke="#950000" d="M2697 1171l143-44-81-34-142 44z"/><path fill="#990000" stroke="#990000" d="M2522 1228l175-57-80-34-175 57z"/><path fill="#a10000" stroke="#a10000" d="M2297 1305l225-77-80-34-225 77z"/><path fill="#b50000" stroke="#b50000" d="M1980 1426l317-121-80-34-318 122z"/><path fill="#e50000" stroke="#e50000" d="M1437 1682l543-256-81-33-542 255z"/><path fill="#890000" stroke="#890000" d="M4974 623l136-30-68-34-136 31z"/><path fill="#850000" stroke="#850000" d="M3571 968l354-93 385-96 664-156-68-33-732 175-671 174z"/><path fill="#890000" stroke="#890000" d="M3225 1063l346-95-68-29-346 95z"/><path fill="#8d0000" stroke="#8d0000" d="M3029 1120l196-57-68-29-197 57z"/><path fill="#910000" stroke="#910000" d="M2908 1156l121-36-69-29-120 36z"/><path fill="#950000" stroke="#950000" d="M2765 1200l143-44-68-29-143 44z"/><path fill="#990000" stroke="#990000" d="M2590 1256l175-56-68-29-175 57z"/><path fill="#a10000" stroke="#a10000" d="M2365 1334l225-78-68-28-225 77z"/><path fill="#b50000" stroke="#b50000" d="M2048 1455l317-121-68-29-317 121z"/><path fill="#e50000" stroke="#e50000" d="M1505 1710l543-255-68-29-543 256z"/><path fill="#890000" stroke="#890000" d="M4761 726l426-93-77-40-426 96z"/><path fill="#850000" stroke="#850000" d="M3753 973l492-125 516-122-77-37-516 125-492 126z"/><path fill="#890000" stroke="#890000" d="M3302 1096l451-123-77-33-451 123z"/><path fill="#8d0000" stroke="#8d0000" d="M3105 1152l197-56-77-33-196 57z"/><path fill="#910000" stroke="#910000" d="M2985 1188l120-36-76-32-121 36z"/><path fill="#950000" stroke="#950000" d="M2842 1232l143-44-77-32-143 44z"/><path fill="#990000" stroke="#990000" d="M2667 1289l175-57-77-32-175 56z"/><path fill="#a10000" stroke="#a10000" d="M2442 1366l225-77-77-33-225 78z"/><path fill="#b50000" stroke="#b50000" d="M2125 1487l317-121-77-32-317 121z"/><path fill="#e50000" stroke="#e50000" d="M1582 1743l543-256-77-32-543 255z"/><path fill="#910000" stroke="#910000" d="M5210 694l65-13-88-48-65 13z"/><path fill="#8d0000" stroke="#8d0000" d="M4996 738l214-44-88-48-214 47z"/><path fill="#890000" stroke="#890000" d="M4558 835l438-97-88-45-438 101z"/><path fill="#850000" stroke="#850000" d="M3933 988l625-153-88-41-625 155z"/><path fill="#890000" stroke="#890000" d="M3473 1111l460-123-88-39-460 124z"/><path fill="#8d0000" stroke="#8d0000" d="M3193 1190l280-79-88-38-280 79z"/><path fill="#910000" stroke="#910000" d="M3073 1226l120-36-88-38-120 36z"/><path fill="#950000" stroke="#950000" d="M2930 1270l143-44-88-38-143 44z"/><path fill="#990000" stroke="#990000" d="M2755 1326l175-56-88-38-175 57z"/><path fill="#a10000" stroke="#a10000" d="M2530 1403l225-77-88-37-225 77z"/><path fill="#b50000" stroke="#b50000" d="M2213 1524l317-121-88-37-317 121z"/><path fill="#e50000" stroke="#e50000" d="M1670 1780l543-256-88-37-543 256z"/><path fill="#950000" stroke="#950000" d="M5277 732l65-12-67-39-65 13z"/><path fill="#910000" stroke="#910000" d="M5137 759l140-27-67-38-139 28z"/><path fill="#8d0000" stroke="#8d0000" d="M4845 819l292-60-66-37-293 63z"/><path fill="#890000" stroke="#890000" d="M3540 1140l367-98 318-80 317-75 303-68-67-34-303 70-385 94-617 162z"/><path fill="#8d0000" stroke="#8d0000" d="M3260 1219l280-79-67-29-280 79z"/><path fill="#910000" stroke="#910000" d="M3140 1255l120-36-67-29-120 36z"/><path fill="#950000" stroke="#950000" d="M2997 1298l143-43-67-29-143 44z"/><path fill="#990000" stroke="#990000" d="M2822 1354l175-56-67-28-175 56z"/><path fill="#a10000" stroke="#a10000" d="M2597 1432l225-78-67-28-225 77z"/><path fill="#b50000" stroke="#b50000" d="M2280 1553l317-121-67-29-317 121z"/><path fill="#e50000" stroke="#e50000" d="M1737 1808l543-255-67-29-543 256z"/><path fill="#990000" stroke="#990000" d="M5352 778l65-11-75-47-65 12z"/><path fill="#950000" stroke="#950000" d="M5138 816l214-38-75-46-214 41z"/><path fill="#910000" stroke="#910000" d="M4991 845l147-29-75-43-147 31z"/><path fill="#8d0000" stroke="#8d0000" d="M4700 906l291-61-75-41-291 64z"/><path fill="#890000" stroke="#890000" d="M3689 1153l543-139 468-108-75-38-543 130-468 121z"/><path fill="#8d0000" stroke="#8d0000" d="M3440 1221l249-68-75-34-249 70z"/><path fill="#910000" stroke="#910000" d="M3215 1287l225-66-75-32-225 66z"/><path fill="#950000" stroke="#950000" d="M3072 1331l143-44-75-32-143 43z"/><path fill="#990000" stroke="#990000" d="M2898 1386l174-55-75-33-175 56z"/><path fill="#a10000" stroke="#a10000" d="M2672 1463l226-77-76-32-225 78z"/><path fill="#b50000" stroke="#b50000" d="M2355 1584l317-121-75-31-317 121z"/><path fill="#e50000" stroke="#e50000" d="M1812 1839l543-255-75-31-543 255z"/><path fill="#a10000" stroke="#a10000" d="M5438 835l65-9-86-59-65 11z"/><path fill="#9d0000" stroke="#9d0000" d="M5299 856l139-21-86-57-139 24z"/><path fill="#990000" stroke="#990000" d="M5154 880l145-24-86-54-145 27z"/><path fill="#950000" stroke="#950000" d="M5006 907l148-27-86-51-148 30z"/><path fill="#910000" stroke="#910000" d="M4786 951l220-44-86-48-220 47z"/><path fill="#8d0000" stroke="#8d0000" d="M4386 1039l400-88-86-45-400 92z"/><path fill="#890000" stroke="#890000" d="M3964 1142l422-103-86-41-422 105z"/><path fill="#8d0000" stroke="#8d0000" d="M3526 1259l438-117-86-39-438 118z"/><path fill="#910000" stroke="#910000" d="M3301 1324l225-65-86-38-225 66z"/><path fill="#950000" stroke="#950000" d="M3158 1368l143-44-86-37-143 44z"/><path fill="#990000" stroke="#990000" d="M2984 1423l174-55-86-37-174 55z"/><path fill="#a10000" stroke="#a10000" d="M2758 1500l226-77-86-37-226 77z"/><path fill="#b50000" stroke="#b50000" d="M2441 1621l317-121-86-37-317 121z"/><path fill="#e50000" stroke="#e50000" d="M1898 1875l543-254-86-37-543 255z"/><path fill="#ad0000" stroke="#ad0000" d="M5467 918l137-14-101-78-136 19z"/><path fill="#a90000" stroke="#a90000" d="M5399 926l68-8-100-73-68 11z"/><path fill="#a50000" stroke="#a50000" d="M5325 936l74-10-100-70-75 12z"/><path fill="#a10000" stroke="#a10000" d="M5254 946l71-10-101-68-70 12z"/><path fill="#9d0000" stroke="#9d0000" d="M5107 969l147-23-100-66-148 27z"/><path fill="#990000" stroke="#990000" d="M4961 994l146-25-101-62-145 29z"/><path fill="#950000" stroke="#950000" d="M4804 1024l157-30-100-58-157 33z"/><path fill="#910000" stroke="#910000" d="M4579 1070l225-46-100-55-226 49z"/><path fill="#8d0000" stroke="#8d0000" d="M3719 1279l450-115 410-94-101-52-409 98-451 118z"/><path fill="#910000" stroke="#910000" d="M3522 1334l197-55-101-45-196 55z"/><path fill="#950000" stroke="#950000" d="M3259 1412l263-78-100-45-264 79z"/><path fill="#990000" stroke="#990000" d="M3084 1467l175-55-101-44-174 55z"/><path fill="#a50000" stroke="#a50000" d="M2859 1543l225-76-100-44-226 77z"/><path fill="#b50000" stroke="#b50000" d="M2541 1664l318-121-101-43-317 121z"/><path fill="#e50000" stroke="#e50000" d="M1999 1918l542-254-100-43-543 254z"/><path fill="#c50000" stroke="#c50000" d="M5659 1017l65-2-120-111-66 6z"/><path fill="#c10000" stroke="#c10000" d="M5588 1020l71-3-121-107-71 8z"/><path fill="#b90000" stroke="#b90000" d="M5520 1024l68-4-121-102-68 8z"/><path fill="#b50000" stroke="#b50000" d="M5445 1030l75-6-121-98-74 10z"/><path fill="#b10000" stroke="#b10000" d="M5375 1037l70-7-120-94-71 10z"/><path fill="#ad0000" stroke="#ad0000" d="M5298 1045l77-8-121-91-77 12z"/><path fill="#a90000" stroke="#a90000" d="M5227 1053l71-8-121-87-70 11z"/><path fill="#a50000" stroke="#a50000" d="M5150 1064l77-11-120-84-78 13z"/><path fill="#a10000" stroke="#a10000" d="M5007 1085l143-21-121-82-143 26z"/><path fill="#9d0000" stroke="#9d0000" d="M4856 1110l151-25-121-77-150 30z"/><path fill="#990000" stroke="#990000" d="M4699 1139l157-29-120-72-157 32z"/><path fill="#950000" stroke="#950000" d="M4464 1186l235-47-120-69-235 53z"/><path fill="#910000" stroke="#910000" d="M3643 1389l422-111 399-92-120-63-400 97-422 114z"/><path fill="#950000" stroke="#950000" d="M3522 1423l121-34-121-55-121 35z"/><path fill="#990000" stroke="#990000" d="M3379 1465l143-42-121-54-142 43z"/><path fill="#9d0000" stroke="#9d0000" d="M3205 1520l174-55-120-53-175 55z"/><path fill="#a50000" stroke="#a50000" d="M2979 1596l226-76-121-53-225 76z"/><path fill="#b50000" stroke="#b50000" d="M2662 1715l317-119-120-53-318 121z"/><path fill="#e50000" stroke="#e50000" d="M2119 1969l543-254-121-51-542 254z"/><path fill="#d50000" stroke="#d50000" d="M5730 1089l65 2-71-76-65 2z"/><path fill="#d10000" stroke="#d10000" d="M5659 1090l71-1-71-72-71 3z"/><path fill="#c90000" stroke="#c90000" d="M5591 1091l68-1-71-70-68 4z"/><path fill="#c50000" stroke="#c50000" d="M5516 1094l75-3-71-67-75 6z"/><path fill="#bd0000" stroke="#bd0000" d="M5446 1098l70-4-71-64-70 7z"/><path fill="#b90000" stroke="#b90000" d="M5369 1103l77-5-71-61-77 8z"/><path fill="#b50000" stroke="#b50000" d="M5298 1109l71-6-71-58-71 8z"/><path fill="#b10000" stroke="#b10000" d="M5221 1117l77-8-71-56-77 11z"/><path fill="#ad0000" stroke="#ad0000" d="M5152 1125l69-8-71-53-68 9z"/><path fill="#a90000" stroke="#a90000" d="M5078 1135l74-10-70-52-75 12z"/><path fill="#a50000" stroke="#a50000" d="M4995 1146l83-11-71-50-82 13z"/><path fill="#a10000" stroke="#a10000" d="M4853 1168l142-22-70-48-143 25z"/><path fill="#9d0000" stroke="#9d0000" d="M4770 1182l83-14-71-45-83 16z"/><path fill="#990000" stroke="#990000" d="M4535 1226l235-44-71-43-235 47z"/><path fill="#950000" stroke="#950000" d="M4256 1286l279-60-71-40-279 63z"/><path fill="#910000" stroke="#910000" d="M3910 1370l346-84-71-37-346 87z"/><path fill="#950000" stroke="#950000" d="M3593 1456l317-86-71-34-317 87z"/><path fill="#990000" stroke="#990000" d="M3450 1498l143-42-71-33-143 42z"/><path fill="#9d0000" stroke="#9d0000" d="M3275 1552l175-54-71-33-174 55z"/><path fill="#a50000" stroke="#a50000" d="M3050 1627l225-75-70-32-226 76z"/><path fill="#b50000" stroke="#b50000" d="M2733 1746l317-119-71-31-317 119z"/><path fill="#e50000" stroke="#e50000" d="M2190 1999l543-253-71-31-543 254z"/><path fill="#f10000" stroke="#f10000" d="M5810 1184l65 5-80-98-65-2z"/><path fill="#e50000" stroke="#e50000" d="M5739 1179l71 5-80-95-71 1z"/><path fill="#dd0000" stroke="#dd0000" d="M5671 1177l68 2-80-89-68 1z"/><path fill="#d50000" stroke="#d50000" d="M5596 1176l75 1-80-86-75 3z"/><path fill="#d10000" stroke="#d10000" d="M5526 1176l70 0-80-82-70 4z"/><path fill="#c90000" stroke="#c90000" d="M5449 1178l77-2-80-78-77 5z"/><path fill="#c50000" stroke="#c50000" d="M5378 1181l71-3-80-75-71 6z"/><path fill="#bd0000" stroke="#bd0000" d="M5301 1185l77-4-80-72-77 8z"/><path fill="#b90000" stroke="#b90000" d="M5233 1191l68-6-80-68-69 8z"/><path fill="#b50000" stroke="#b50000" d="M5158 1197l75-6-81-66-74 10z"/><path fill="#b10000" stroke="#b10000" d="M5076 1206l82-9-80-62-83 11z"/><path fill="#ad0000" stroke="#ad0000" d="M5008 1214l68-8-81-60-68 10z"/><path fill="#a90000" stroke="#a90000" d="M4933 1224l75-10-81-58-74 12z"/><path fill="#a50000" stroke="#a50000" d="M4850 1236l83-12-80-56-83 14z"/><path fill="#a10000" stroke="#a10000" d="M4690 1262l160-26-80-54-160 30z"/><path fill="#9d0000" stroke="#9d0000" d="M4533 1291l157-29-80-50-157 31z"/><path fill="#990000" stroke="#990000" d="M4336 1331l197-40-80-48-197 43z"/><path fill="#950000" stroke="#950000" d="M3794 1461l279-71 263-59-80-45-263 63-280 73z"/><path fill="#990000" stroke="#990000" d="M3530 1535l264-74-81-39-263 76z"/><path fill="#9d0000" stroke="#9d0000" d="M3356 1588l174-53-80-37-175 54z"/><path fill="#a50000" stroke="#a50000" d="M3130 1663l226-75-81-36-225 75z"/><path fill="#b50000" stroke="#b50000" d="M2813 1781l317-118-80-36-317 119z"/><path fill="#e50000" stroke="#e50000" d="M2270 2033l543-252-80-35-543 253z"/><path fill="#ff1200" stroke="#ff1200" d="M5903 1311l65 11-93-133-65-5z"/><path fill="#ff0a00" stroke="#ff0a00" d="M5832 1300l71 11-93-127-71-5z"/><path fill="#fd0000" stroke="#fd0000" d="M5763 1292l69 8-93-121-68-2z"/><path fill="#f50000" stroke="#f50000" d="M5689 1285l74 7-92-115-75-1z"/><path fill="#e90000" stroke="#e90000" d="M5619 1280l70 5-93-109-70 0z"/><path fill="#e10000" stroke="#e10000" d="M5542 1277l77 3-93-104-77 2z"/><path fill="#d90000" stroke="#d90000" d="M5471 1276l71 1-93-99-71 3z"/><path fill="#d10000" stroke="#d10000" d="M5393 1276l78 0-93-95-77 4z"/><path fill="#cd0000" stroke="#cd0000" d="M5325 1277l68-1-92-91-68 6z"/><path fill="#c50000" stroke="#c50000" d="M5251 1280l74-3-92-86-75 6z"/><path fill="#c10000" stroke="#c10000" d="M5168 1285l83-5-93-83-82 9z"/><path fill="#b90000" stroke="#b90000" d="M5100 1290l68-5-92-79-68 8z"/><path fill="#b50000" stroke="#b50000" d="M5026 1297l74-7-92-76-75 10z"/><path fill="#b10000" stroke="#b10000" d="M4943 1305l83-8-93-73-83 12z"/><path fill="#ad0000" stroke="#ad0000" d="M4851 1317l92-12-93-69-92 15z"/><path fill="#a90000" stroke="#a90000" d="M4783 1326l68-9-93-66-68 11z"/><path fill="#a50000" stroke="#a50000" d="M4626 1350l157-24-93-64-157 29z"/><path fill="#a10000" stroke="#a10000" d="M4533 1366l93-16-93-59-92 18z"/><path fill="#9d0000" stroke="#9d0000" d="M4240 1425l293-59-92-57-294 64z"/><path fill="#990000" stroke="#990000" d="M3766 1540l225-58 249-57-93-52-249 61-225 60z"/><path fill="#9d0000" stroke="#9d0000" d="M3623 1580l143-40-93-46-143 41z"/><path fill="#a10000" stroke="#a10000" d="M3448 1632l175-52-93-45-174 53z"/><path fill="#a90000" stroke="#a90000" d="M3223 1705l225-73-92-44-226 75z"/><path fill="#b50000" stroke="#b50000" d="M2906 1822l317-117-93-42-317 118z"/><path fill="#e50000" stroke="#e50000" d="M2363 2073l543-251-93-41-543 252z"/><path fill="#ff4a00" stroke="#ff4a00" d="M6012 1490l66 19-110-187-65-11z"/><path fill="#ff3a00" stroke="#ff3a00" d="M5941 1471l71 19-109-179-71-11z"/><path fill="#ff2e00" stroke="#ff2e00" d="M5873 1455l68 16-109-171-69-8z"/><path fill="#ff2200" stroke="#ff2200" d="M5798 1440l75 15-110-163-74-7z"/><path fill="#ff1600" stroke="#ff1600" d="M5728 1428l70 12-109-155-70-5z"/><path fill="#ff0a00" stroke="#ff0a00" d="M5651 1417l77 11-109-148-77-3z"/><path fill="#fd0000" stroke="#fd0000" d="M5581 1409l70 8-109-140-71-1z"/><path fill="#f10000" stroke="#f10000" d="M5503 1403l78 6-110-133-78 0z"/><path fill="#e90000" stroke="#e90000" d="M5435 1398l68 5-110-127-68 1z"/><path fill="#e10000" stroke="#e10000" d="M5360 1395l75 3-110-121-74 3z"/><path fill="#d90000" stroke="#d90000" d="M5278 1394l82 1-109-115-83 5z"/><path fill="#d10000" stroke="#d10000" d="M5210 1395l68-1-110-109-68 5z"/><path fill="#cd0000" stroke="#cd0000" d="M5135 1397l75-2-110-105-74 7z"/><path fill="#c50000" stroke="#c50000" d="M5053 1401l82-4-109-100-83 8z"/><path fill="#bd0000" stroke="#bd0000" d="M4960 1407l93-6-110-96-92 12z"/><path fill="#b90000" stroke="#b90000" d="M4892 1413l68-6-109-90-68 9z"/><path fill="#b50000" stroke="#b50000" d="M4818 1420l74-7-109-87-75 11z"/><path fill="#b10000" stroke="#b10000" d="M4735 1430l83-10-110-83-82 13z"/><path fill="#ad0000" stroke="#ad0000" d="M4643 1443l92-13-109-80-93 16z"/><path fill="#a90000" stroke="#a90000" d="M4539 1459l104-16-110-77-104 20z"/><path fill="#a50000" stroke="#a50000" d="M4350 1492l189-33-110-73-189 39z"/><path fill="#a10000" stroke="#a10000" d="M3733 1636l263-68 197-44 157-32-110-67-354 83-263 72z"/><path fill="#a50000" stroke="#a50000" d="M3558 1686l175-50-110-56-175 52z"/><path fill="#a90000" stroke="#a90000" d="M3333 1757l225-71-110-54-225 73z"/><path fill="#b90000" stroke="#b90000" d="M3015 1872l318-115-110-52-317 117z"/><path fill="#e50000" stroke="#e50000" d="M2473 2121l542-249-109-50-543 251z"/><path fill="#ff9d00" stroke="#ff9d00" d="M6146 1756l66 29-134-276-66-19z"/><path fill="#ff8900" stroke="#ff8900" d="M6075 1727l71 29-134-266-71-19z"/><path fill="#ff7a00" stroke="#ff7a00" d="M6007 1701l68 26-134-256-68-16z"/><path fill="#ff6600" stroke="#ff6600" d="M5933 1675l74 26-134-246-75-15z"/><path fill="#ff5600" stroke="#ff5600" d="M5862 1652l71 23-135-235-70-12z"/><path fill="#ff4600" stroke="#ff4600" d="M5785 1630l77 22-134-224-77-11z"/><path fill="#ff3a00" stroke="#ff3a00" d="M5715 1613l70 17-134-213-70-8z"/><path fill="#ff2a00" stroke="#ff2a00" d="M5637 1595l78 18-134-204-78-6z"/><path fill="#ff1e00" stroke="#ff1e00" d="M5569 1582l68 13-134-192-68-5z"/><path fill="#ff1200" stroke="#ff1200" d="M5494 1570l75 12-134-184-75-3z"/><path fill="#ff0600" stroke="#ff0600" d="M5412 1560l82 10-134-175-82-1z"/><path fill="#fd0000" stroke="#fd0000" d="M5344 1553l68 7-134-166-68 1z"/><path fill="#f10000" stroke="#f10000" d="M5269 1547l75 6-134-158-75 2z"/><path fill="#e90000" stroke="#e90000" d="M5187 1543l82 4-134-150-82 4z"/><path fill="#dd0000" stroke="#dd0000" d="M5095 1541l92 2-134-142-93 6z"/><path fill="#d90000" stroke="#d90000" d="M5026 1541l69 0-135-134-68 6z"/><path fill="#d10000" stroke="#d10000" d="M4952 1543l74-2-134-128-74 7z"/><path fill="#c90000" stroke="#c90000" d="M4869 1547l83-4-134-123-83 10z"/><path fill="#c50000" stroke="#c50000" d="M4777 1553l92-6-134-117-92 13z"/><path fill="#bd0000" stroke="#bd0000" d="M4673 1563l104-10-134-110-104 16z"/><path fill="#b50000" stroke="#b50000" d="M4484 1586l189-23-134-104-189 33z"/><path fill="#b10000" stroke="#b10000" d="M4409 1598l75-12-134-94-75 14z"/><path fill="#ad0000" stroke="#ad0000" d="M4235 1628l174-30-134-92-175 38z"/><path fill="#a90000" stroke="#a90000" d="M3692 1756l317-80 226-48-135-84-225 54-317 88z"/><path fill="#ad0000" stroke="#ad0000" d="M3467 1824l225-68-134-70-225 71z"/><path fill="#bd0000" stroke="#bd0000" d="M3149 1936l318-112-134-67-318 115z"/><path fill="#e90000" stroke="#e90000" d="M2607 2181l542-245-134-64-542 249z"/><path fill="#d5ff2a" stroke="#d5ff2a" d="M6319 2174l66 39-173-428-66-29z"/><path fill="#edff12" stroke="#edff12" d="M6248 2133l71 41-173-418-71-29z"/><path fill="#fff900" stroke="#fff900" d="M6180 2095l68 38-173-406-68-26z"/><path fill="#ffe100" stroke="#ffe100" d="M6105 2055l75 40-173-394-74-26z"/><path fill="#ffcd00" stroke="#ffcd00" d="M6035 2019l70 36-172-380-71-23z"/><path fill="#ffb500" stroke="#ffb500" d="M5958 1982l77 37-173-367-77-22z"/><path fill="#ffa100" stroke="#ffa100" d="M5888 1950l70 32-173-352-70-17z"/><path fill="#ff8d00" stroke="#ff8d00" d="M5810 1918l78 32-173-337-78-18z"/><path fill="#ff7e00" stroke="#ff7e00" d="M5742 1892l68 26-173-323-68-13z"/><path fill="#ff6a00" stroke="#ff6a00" d="M5667 1865l75 27-173-310-75-12z"/><path fill="#ff5a00" stroke="#ff5a00" d="M5585 1839l82 26-173-295-82-10z"/><path fill="#ff4a00" stroke="#ff4a00" d="M5517 1820l68 19-173-279-68-7z"/><path fill="#ff3a00" stroke="#ff3a00" d="M5442 1801l75 19-173-267-75-6z"/><path fill="#ff2e00" stroke="#ff2e00" d="M5360 1783l82 18-173-254-82-4z"/><path fill="#ff1e00" stroke="#ff1e00" d="M5267 1767l93 16-173-240-92-2z"/><path fill="#ff1200" stroke="#ff1200" d="M5199 1757l68 10-172-226-69 0z"/><path fill="#ff0600" stroke="#ff0600" d="M5125 1748l74 9-173-216-74 2z"/><path fill="#f90000" stroke="#f90000" d="M5042 1741l83 7-173-205-83 4z"/><path fill="#f10000" stroke="#f10000" d="M4950 1736l92 5-173-194-92 6z"/><path fill="#e50000" stroke="#e50000" d="M4846 1733l104 3-173-183-104 10z"/><path fill="#d90000" stroke="#d90000" d="M4725 1735l121-2-173-170-121 14z"/><path fill="#d50000" stroke="#d50000" d="M4657 1738l68-3-173-158-68 9z"/><path fill="#cd0000" stroke="#cd0000" d="M4582 1743l75-5-173-152-75 12z"/><path fill="#c90000" stroke="#c90000" d="M4500 1750l82-7-173-145-82 13z"/><path fill="#c50000" stroke="#c50000" d="M4407 1760l93-10-173-139-92 17z"/><path fill="#bd0000" stroke="#bd0000" d="M4303 1774l104-14-172-132-105 21z"/><path fill="#b90000" stroke="#b90000" d="M4040 1821l263-47-173-125-263 61z"/><path fill="#b50000" stroke="#b50000" d="M3865 1860l175-39-173-111-175 46z"/><path fill="#b90000" stroke="#b90000" d="M3640 1920l225-60-173-104-225 68z"/><path fill="#c10000" stroke="#c10000" d="M3322 2024l318-104-173-96-318 112z"/><path fill="#ed0000" stroke="#ed0000" d="M2780 2261l542-237-173-88-542 245z"/><path fill="#00f5ff" stroke="#00f5ff" d="M6563 2836l65 40-243-663-66-39z"/><path fill="#0efff1" stroke="#0efff1" d="M6492 2791l71 45-244-662-71-41z"/><path fill="#26ffd9" stroke="#26ffd9" d="M6424 2748l68 43-244-658-68-38z"/><path fill="#42ffbd" stroke="#42ffbd" d="M6349 2700l75 48-244-653-75-40z"/><path fill="#5affa5" stroke="#5affa5" d="M6279 2654l70 46-244-645-70-36z"/><path fill="#76ff89" stroke="#76ff89" d="M6202 2605l77 49-244-635-77-37z"/><path fill="#91ff6e" stroke="#91ff6e" d="M6131 2560l71 45-244-623-70-32z"/><path fill="#a9ff56" stroke="#a9ff56" d="M6054 2512l77 48-243-610-78-32z"/><path fill="#c1ff3e" stroke="#c1ff3e" d="M5986 2470l68 42-244-594-68-26z"/><path fill="#d9ff26" stroke="#d9ff26" d="M5911 2426l75 44-244-578-75-27z"/><path fill="#f5ff0a" stroke="#f5ff0a" d="M5829 2379l82 47-244-561-82-26z"/><path fill="#fff100" stroke="#fff100" d="M5760 2342l69 37-244-540-68-19z"/><path fill="#ffdd00" stroke="#ffdd00" d="M5686 2303l74 39-243-522-75-19z"/><path fill="#ffc500" stroke="#ffc500" d="M5603 2263l83 40-244-502-82-18z"/><path fill="#ffa900" stroke="#ffa900" d="M5511 2221l92 42-243-480-93-16z"/><path fill="#ff9900" stroke="#ff9900" d="M5443 2193l68 28-244-454-68-10z"/><path fill="#ff8500" stroke="#ff8500" d="M5368 2164l75 29-244-436-74-9z"/><path fill="#ff7200" stroke="#ff7200" d="M5286 2136l82 28-243-416-83-7z"/><path fill="#ff5e00" stroke="#ff5e00" d="M5194 2107l92 29-244-395-92-5z"/><path fill="#ff4600" stroke="#ff4600" d="M5089 2080l105 27-244-371-104-3z"/><path fill="#ff3200" stroke="#ff3200" d="M4969 2055l120 25-243-347-121 2z"/><path fill="#ff2600" stroke="#ff2600" d="M4900 2043l69 12-244-320-68 3z"/><path fill="#ff1a00" stroke="#ff1a00" d="M4826 2033l74 10-243-305-75 5z"/><path fill="#ff0e00" stroke="#ff0e00" d="M4743 2025l83 8-244-290-82 7z"/><path fill="#ff0200" stroke="#ff0200" d="M4651 2019l92 6-243-275-93 10z"/><path fill="#f50000" stroke="#f50000" d="M4547 2016l104 3-244-259-104 14z"/><path fill="#ed0000" stroke="#ed0000" d="M4426 2017l121-1-244-242-121 19z"/><path fill="#e10000" stroke="#e10000" d="M4283 2026l143-9-244-224-142 28z"/><path fill="#d90000" stroke="#d90000" d="M4109 2046l174-20-243-205-175 39z"/><path fill="#d10000" stroke="#d10000" d="M3883 2087l226-41-244-186-225 60z"/><path fill="#d50000" stroke="#d50000" d="M3566 2170l317-83-243-167-318 104z"/><path fill="#f50000" stroke="#f50000" d="M3023 2386l543-216-244-146-542 237z"/><path fill="#0000c9" stroke="#0000c9" d="M6980 3763l65 14-417-901-65-40z"/><path fill="#0000d5" stroke="#0000d5" d="M6909 3746l71 17-417-927-71-45z"/><path fill="#0000e5" stroke="#0000e5" d="M6840 3728l69 18-417-955-68-43z"/><path fill="#0000f5" stroke="#0000f5" d="M6766 3706l74 22-416-980-75-48z"/><path fill="#0006ff" stroke="#0006ff" d="M6696 3683l70 23-417-1006-70-46z"/><path fill="#0016ff" stroke="#0016ff" d="M6619 3655l77 28-417-1029-77-49z"/><path fill="#002aff" stroke="#002aff" d="M6548 3628l71 27-417-1050-71-45z"/><path fill="#003eff" stroke="#003eff" d="M6470 3595l78 33-417-1068-77-48z"/><path fill="#0052ff" stroke="#0052ff" d="M6402 3564l68 31-416-1083-68-42z"/><path fill="#0066ff" stroke="#0066ff" d="M6328 3528l74 36-416-1094-75-44z"/><path fill="#0081ff" stroke="#0081ff" d="M6245 3486l83 42-417-1102-82-47z"/><path fill="#0095ff" stroke="#0095ff" d="M6177 3450l68 36-416-1107-69-37z"/><path fill="#00adff" stroke="#00adff" d="M6103 3408l74 42-417-1108-74-39z"/><path fill="#00c9ff" stroke="#00c9ff" d="M6020 3360l83 48-417-1105-83-40z"/><path fill="#00e9ff" stroke="#00e9ff" d="M5928 3305l92 55-417-1097-92-42z"/><path fill="#02fffd" stroke="#02fffd" d="M5860 3263l68 42-417-1084-68-28z"/><path fill="#1affe5" stroke="#1affe5" d="M5785 3216l75 47-417-1070-75-29z"/><path fill="#36ffc9" stroke="#36ffc9" d="M5703 3165l82 51-417-1052-82-28z"/><path fill="#56ffa9" stroke="#56ffa9" d="M5610 3107l93 58-417-1029-92-29z"/><path fill="#7eff81" stroke="#7eff81" d="M5506 3042l104 65-416-1000-105-27z"/><path fill="#a5ff5a" stroke="#a5ff5a" d="M5385 2968l121 74-417-962-120-25z"/><path fill="#bdff42" stroke="#bdff42" d="M5317 2929l68 39-416-913-69-12z"/><path fill="#d5ff2a" stroke="#d5ff2a" d="M5242 2886l75 43-417-886-74-10z"/><path fill="#edff12" stroke="#edff12" d="M5160 2842l82 44-416-853-83-8z"/><path fill="#fff500" stroke="#fff500" d="M5068 2795l92 47-417-817-92-6z"/><path fill="#ffd500" stroke="#ffd500" d="M4963 2746l105 49-417-776-104-3z"/><path fill="#ffb500" stroke="#ffb500" d="M4843 2696l120 50-416-730-121 1z"/><path fill="#ff9500" stroke="#ff9500" d="M4700 2646l143 50-417-679-143 9z"/><path fill="#ff7200" stroke="#ff7200" d="M4525 2599l175 47-417-620-174 20z"/><path fill="#ff4a00" stroke="#ff4a00" d="M4300 2563l225 36-416-553-226 41z"/><path fill="#ff2a00" stroke="#ff2a00" d="M3983 2559l317 4-417-476-317 83z"/><path fill="#ff2200" stroke="#ff2200" d="M3440 2675l543-116-417-389-543 216z"/></g><g transform="scale(0.1)" stroke-width="7.0" stroke-linejoin="round"><path fill="#810000" stroke="#810000" d="M3029 546l581-150 679-171-12-5-679 171-581 150z"/><path fill="#850000" stroke="#850000" d="M2629 654l400-108-12-5-400 108z"/><path fill="#890000" stroke="#890000" d="M2404 718l225-64-12-5-225 63z"/><path fill="#8d0000" stroke="#8d0000" d="M2207 775l197-57-12-6-197 58z"/><path fill="#910000" stroke="#910000" d="M2087 811l120-36-12-5-120 36z"/><path fill="#950000" stroke="#950000" d="M1944 855l143-44-12-5-143 44z"/><path fill="#990000" stroke="#990000" d="M1769 912l175-57-12-5-175 57z"/><path fill="#a10000" stroke="#a10000" d="M1544 990l225-78-12-5-225 78z"/><path fill="#b10000" stroke="#b10000" d="M1227 1111l317-121-12-5-317 121z"/><path fill="#e50000" stroke="#e50000" d="M684 1367l543-256-12-5-543 256z"/><path fill="#810000" stroke="#810000" d="M3048 554l581-150 679-171-19-8-679 171-581 150z"/><path fill="#850000" stroke="#850000" d="M2648 662l400-108-19-8-400 108z"/><path fill="#890000" stroke="#890000" d="M2423 725l225-63-19-8-225 64z"/><path fill="#8d0000" stroke="#8d0000" d="M2226 783l197-58-19-7-197 57z"/><path fill="#910000" stroke="#910000" d="M2105 819l121-36-19-8-120 36z"/><path fill="#950000" stroke="#950000" d="M1963 863l142-44-18-8-143 44z"/><path fill="#990000" stroke="#990000" d="M1788 920l175-57-19-8-175 57z"/><path fill="#a10000" stroke="#a10000" d="M1563 998l225-78-19-8-225 78z"/><path fill="#b10000" stroke="#b10000" d="M1245 1119l318-121-19-8-317 121z"/><path fill="#e50000" stroke="#e50000" d="M703 1375l542-256-18-8-543 256z"/><path fill="#810000" stroke="#810000" d="M3067 562l581-150 679-171-19-8-679 171-581 150z"/><path fill="#850000" stroke="#850000" d="M2667 670l400-108-19-8-400 108z"/><path fill="#890000" stroke="#890000" d="M2442 733l225-63-19-8-225 63z"/><path fill="#8d0000" stroke="#8d0000" d="M2245 791l197-58-19-8-197 58z"/><path fill="#910000" stroke="#910000" d="M2125 827l120-36-19-8-121 36z"/><path fill="#950000" stroke="#950000" d="M1982 871l143-44-20-8-142 44z"/><path fill="#990000" stroke="#990000" d="M1807 928l175-57-19-8-175 57z"/><path fill="#a10000" stroke="#a10000" d="M1582 1006l225-78-19-8-225 78z"/><path fill="#b10000" stroke="#b10000" d="M1265 1127l317-121-19-8-318 121z"/><path fill="#e50000" stroke="#e50000" d="M722 1383l543-256-20-8-542 256z"/><path fill="#810000" stroke="#810000" d="M3087 571l581-151 679-170-20-9-679 171-581 150z"/><path fill="#850000" stroke="#850000" d="M2687 679l400-108-20-9-400 108z"/><path fill="#890000" stroke="#890000" d="M2462 742l225-63-20-9-225 63z"/><path fill="#8d0000" stroke="#8d0000" d="M2265 799l197-57-20-9-197 58z"/><path fill="#910000" stroke="#910000" d="M2145 835l120-36-20-8-120 36z"/><path fill="#950000" stroke="#950000" d="M2002 880l143-45-20-8-143 44z"/><path fill="#990000" stroke="#990000" d="M1827 936l175-56-20-9-175 57z"/><path fill="#a10000" stroke="#a10000" d="M1602 1014l225-78-20-8-225 78z"/><path fill="#b10000" stroke="#b10000" d="M1285 1136l317-122-20-8-317 121z"/><path fill="#e50000" stroke="#e50000" d="M742 1391l543-255-20-9-543 256z"/><path fill="#810000" stroke="#810000" d="M3108 579l581-150 679-171-21-8-679 170-581 151z"/><path fill="#850000" stroke="#850000" d="M2708 687l400-108-21-8-400 108z"/><path fill="#890000" stroke="#890000" d="M2483 750l225-63-21-8-225 63z"/><path fill="#8d0000" stroke="#8d0000" d="M2286 808l197-58-21-8-197 57z"/><path fill="#910000" stroke="#910000" d="M2165 844l121-36-21-9-120 36z"/><path fill="#950000" stroke="#950000" d="M2023 888l142-44-20-9-143 45z"/><path fill="#990000" stroke="#990000" d="M1848 945l175-57-21-8-175 56z"/><path fill="#a10000" stroke="#a10000" d="M1623 1023l225-78-21-9-225 78z"/><path fill="#b10000" stroke="#b10000" d="M1305 1144l318-121-21-9-317 122z"/><path fill="#e50000" stroke="#e50000" d="M763 1400l542-256-20-8-543 255z"/><path fill="#810000" stroke="#810000" d="M3167 578l543-140 679-170-21-10-679 171-543 140z"/><path fill="#850000" stroke="#850000" d="M2729 696l438-118-21-9-438 118z"/><path fill="#890000" stroke="#890000" d="M2504 759l225-63-21-9-225 63z"/><path fill="#8d0000" stroke="#8d0000" d="M2307 817l197-58-21-9-197 58z"/><path fill="#910000" stroke="#910000" d="M2187 853l120-36-21-9-121 36z"/><path fill="#950000" stroke="#950000" d="M2044 897l143-44-22-9-142 44z"/><path fill="#990000" stroke="#990000" d="M1869 954l175-57-21-9-175 57z"/><path fill="#a10000" stroke="#a10000" d="M1644 1031l225-77-21-9-225 78z"/><path fill="#b10000" stroke="#b10000" d="M1327 1153l317-122-21-8-318 121z"/><path fill="#e50000" stroke="#e50000" d="M784 1409l543-256-22-9-542 256z"/><path fill="#810000" stroke="#810000" d="M3189 587l543-140 679-170-22-9-679 170-543 140z"/><path fill="#850000" stroke="#850000" d="M2751 705l438-118-22-9-438 118z"/><path fill="#890000" stroke="#890000" d="M2526 769l225-64-22-9-225 63z"/><path fill="#8d0000" stroke="#8d0000" d="M2329 826l197-57-22-10-197 58z"/><path fill="#910000" stroke="#910000" d="M2209 862l120-36-22-9-120 36z"/><path fill="#950000" stroke="#950000" d="M2066 906l143-44-22-9-143 44z"/><path fill="#990000" stroke="#990000" d="M1891 963l175-57-22-9-175 57z"/><path fill="#a10000" stroke="#a10000" d="M1666 1041l225-78-22-9-225 77z"/><path fill="#b10000" stroke="#b10000" d="M1349 1162l317-121-22-10-317 122z"/><path fill="#e50000" stroke="#e50000" d="M806 1418l543-256-22-9-543 256z"/><path fill="#810000" stroke="#810000" d="M3212 597l543-140 679-170-23-10-679 170-543 140z"/><path fill="#850000" stroke="#850000" d="M2774 715l438-118-23-10-438 118z"/><path fill="#890000" stroke="#890000" d="M2549 778l225-63-23-10-225 64z"/><path fill="#8d0000" stroke="#8d0000" d="M2352 835l197-57-23-9-197 57z"/><path fill="#910000" stroke="#910000" d="M2232 872l120-37-23-9-120 36z"/><path fill="#950000" stroke="#950000" d="M2089 916l143-44-23-10-143 44z"/><path fill="#990000" stroke="#990000" d="M1914 973l175-57-23-10-175 57z"/><path fill="#a10000" stroke="#a10000" d="M1689 1050l225-77-23-10-225 78z"/><path fill="#b10000" stroke="#b10000" d="M1372 1172l317-122-23-9-317 121z"/><path fill="#e50000" stroke="#e50000" d="M829 1428l543-256-23-10-543 256z"/><path fill="#810000" stroke="#810000" d="M3236 607l579-149 643-161-24-10-679 170-543 140z"/><path fill="#850000" stroke="#850000" d="M2798 725l438-118-24-10-438 118z"/><path fill="#890000" stroke="#890000" d="M2573 788l225-63-24-10-225 63z"/><path fill="#8d0000" stroke="#8d0000" d="M2376 845l197-57-24-10-197 57z"/><path fill="#910000" stroke="#910000" d="M2256 882l120-37-24-10-120 37z"/><path fill="#950000" stroke="#950000" d="M2113 926l143-44-24-10-143 44z"/><path fill="#990000" stroke="#990000" d="M1938 983l175-57-24-10-175 57z"/><path fill="#a10000" stroke="#a10000" d="M1713 1060l225-77-24-10-225 77z"/><path fill="#b10000" stroke="#b10000" d="M1396 1182l317-122-24-10-317 122z"/><path fill="#e50000" stroke="#e50000" d="M853 1438l543-256-24-10-543 256z"/><path fill="#810000" stroke="#810000" d="M3261 618l579-150 643-160-25-11-643 161-579 149z"/><path fill="#850000" stroke="#850000" d="M2823 735l438-117-25-11-438 118z"/><path fill="#890000" stroke="#890000" d="M2598 799l225-64-25-10-225 63z"/><path fill="#8d0000" stroke="#8d0000" d="M2401 856l197-57-25-11-197 57z"/><path fill="#910000" stroke="#910000" d="M2280 892l121-36-25-11-120 37z"/><path fill="#950000" stroke="#950000" d="M2138 936l142-44-24-10-143 44z"/><path fill="#990000" stroke="#990000" d="M1963 993l175-57-25-10-175 57z"/><path fill="#a10000" stroke="#a10000" d="M1738 1071l225-78-25-10-225 77z"/><path fill="#b10000" stroke="#b10000" d="M1420 1192l318-121-25-11-317 122z"/><path fill="#e50000" stroke="#e50000" d="M878 1448l542-256-24-10-543 256z"/><path fill="#810000" stroke="#810000" d="M3287 628l579-149 643-160-26-11-643 160-579 150z"/><path fill="#850000" stroke="#850000" d="M2849 746l438-118-26-10-438 117z"/><path fill="#890000" stroke="#890000" d="M2624 810l225-64-26-11-225 64z"/><path fill="#8d0000" stroke="#8d0000" d="M2427 867l197-57-26-11-197 57z"/><path fill="#910000" stroke="#910000" d="M2306 903l121-36-26-11-121 36z"/><path fill="#950000" stroke="#950000" d="M2164 947l142-44-26-11-142 44z"/><path fill="#990000" stroke="#990000" d="M1989 1004l175-57-26-11-175 57z"/><path fill="#a10000" stroke="#a10000" d="M1764 1082l225-78-26-11-225 78z"/><path fill="#b10000" stroke="#b10000" d="M1446 1203l318-121-26-11-318 121z"/><path fill="#e50000" stroke="#e50000" d="M904 1459l542-256-26-11-542 256z"/><path fill="#810000" stroke="#810000" d="M3314 640l579-149 643-161-27-11-643 160-579 149z"/><path fill="#850000" stroke="#850000" d="M2876 758l438-118-27-12-438 118z"/><path fill="#890000" stroke="#890000" d="M2651 821l225-63-27-12-225 64z"/><path fill="#8d0000" stroke="#8d0000" d="M2454 878l197-57-27-11-197 57z"/><path fill="#910000" stroke="#910000" d="M2334 914l120-36-27-11-121 36z"/><path fill="#950000" stroke="#950000" d="M2191 959l143-45-28-11-142 44z"/><path fill="#990000" stroke="#990000" d="M2016 1015l175-56-27-12-175 57z"/><path fill="#a10000" stroke="#a10000" d="M1791 1093l225-78-27-11-225 78z"/><path fill="#b10000" stroke="#b10000" d="M1474 1215l317-122-27-11-318 121z"/><path fill="#e50000" stroke="#e50000" d="M931 1470l543-255-28-12-542 256z"/><path fill="#810000" stroke="#810000" d="M3333 648l579-149 643-160-19-9-643 161-579 149z"/><path fill="#850000" stroke="#850000" d="M2895 766l438-118-19-8-438 118z"/><path fill="#890000" stroke="#890000" d="M2670 829l225-63-19-8-225 63z"/><path fill="#8d0000" stroke="#8d0000" d="M2473 886l197-57-19-8-197 57z"/><path fill="#910000" stroke="#910000" d="M2352 922l121-36-19-8-120 36z"/><path fill="#950000" stroke="#950000" d="M2210 967l142-45-18-8-143 45z"/><path fill="#990000" stroke="#990000" d="M2035 1023l175-56-19-8-175 56z"/><path fill="#a10000" stroke="#a10000" d="M1810 1101l225-78-19-8-225 78z"/><path fill="#b10000" stroke="#b10000" d="M1492 1222l318-121-19-8-317 122z"/><path fill="#e50000" stroke="#e50000" d="M950 1478l542-256-18-7-543 255z"/><path fill="#810000" stroke="#810000" d="M3352 656l579-149 643-160-19-8-643 160-579 149z"/><path fill="#850000" stroke="#850000" d="M2914 774l438-118-19-8-438 118z"/><path fill="#890000" stroke="#890000" d="M2689 837l225-63-19-8-225 63z"/><path fill="#8d0000" stroke="#8d0000" d="M2492 894l197-57-19-8-197 57z"/><path fill="#910000" stroke="#910000" d="M2372 930l120-36-19-8-121 36z"/><path fill="#950000" stroke="#950000" d="M2229 975l143-45-20-8-142 45z"/><path fill="#990000" stroke="#990000" d="M2054 1031l175-56-19-8-175 56z"/><path fill="#a10000" stroke="#a10000" d="M1829 1109l225-78-19-8-225 78z"/><path fill="#b10000" stroke="#b10000" d="M1512 1230l317-121-19-8-318 121z"/><path fill="#e50000" stroke="#e50000" d="M969 1486l543-256-20-8-542 256z"/><path fill="#810000" stroke="#810000" d="M3372 664l579-149 643-159-20-9-643 160-579 149z"/><path fill="#850000" stroke="#850000" d="M2934 782l438-118-20-8-438 118z"/><path fill="#890000" stroke="#890000" d="M2709 845l225-63-20-8-225 63z"/><path fill="#8d0000" stroke="#8d0000" d="M2512 903l197-58-20-8-197 57z"/><path fill="#910000" stroke="#910000" d="M2392 939l120-36-20-9-120 36z"/><path fill="#950000" stroke="#950000" d="M2249 983l143-44-20-9-143 45z"/><path fill="#990000" stroke="#990000" d="M2074 1040l175-57-20-8-175 56z"/><path fill="#a10000" stroke="#a10000" d="M1849 1117l225-77-20-9-225 78z"/><path fill="#b10000" stroke="#b10000" d="M1532 1239l317-122-20-8-317 121z"/><path fill="#e50000" stroke="#e50000" d="M989 1495l543-256-20-9-543 256z"/><path fill="#810000" stroke="#810000" d="M3393 673l579-149 643-159-21-9-643 159-579 149z"/><path fill="#850000" stroke="#850000" d="M2955 791l438-118-21-9-438 118z"/><path fill="#890000" stroke="#890000" d="M2730 854l225-63-21-9-225 63z"/><path fill="#8d0000" stroke="#8d0000" d="M2533 911l197-57-21-9-197 58z"/><path fill="#910000" stroke="#910000" d="M2412 947l121-36-21-8-120 36z"/><path fill="#950000" stroke="#950000" d="M2270 992l142-45-20-8-143 44z"/><path fill="#990000" stroke="#990000" d="M2095 1048l175-56-21-9-175 57z"/><path fill="#a10000" stroke="#a10000" d="M1870 1126l225-78-21-8-225 77z"/><path fill="#b10000" stroke="#b10000" d="M1552 1248l318-122-21-9-317 122z"/><path fill="#e50000" stroke="#e50000" d="M1010 1503l542-255-20-9-543 256z"/><path fill="#810000" stroke="#810000" d="M3451 673l577-148 608-151-21-9-608 150-577 149z"/><path fill="#850000" stroke="#850000" d="M2977 800l474-127-21-9-475 127z"/><path fill="#890000" stroke="#890000" d="M2751 863l226-63-22-9-225 63z"/><path fill="#8d0000" stroke="#8d0000" d="M2555 920l196-57-21-9-197 57z"/><path fill="#910000" stroke="#910000" d="M2434 956l121-36-22-9-121 36z"/><path fill="#950000" stroke="#950000" d="M2291 1001l143-45-22-9-142 45z"/><path fill="#990000" stroke="#990000" d="M2117 1057l174-56-21-9-175 56z"/><path fill="#a10000" stroke="#a10000" d="M1891 1135l226-78-22-9-225 78z"/><path fill="#b10000" stroke="#b10000" d="M1574 1257l317-122-21-9-318 122z"/><path fill="#e50000" stroke="#e50000" d="M1031 1512l543-255-22-9-542 255z"/><path fill="#810000" stroke="#810000" d="M3473 682l578-148 608-150-23-10-608 151-577 148z"/><path fill="#850000" stroke="#850000" d="M2999 809l474-127-22-9-474 127z"/><path fill="#890000" stroke="#890000" d="M2774 872l225-63-22-9-226 63z"/><path fill="#8d0000" stroke="#8d0000" d="M2577 930l197-58-23-9-196 57z"/><path fill="#910000" stroke="#910000" d="M2456 966l121-36-22-10-121 36z"/><path fill="#950000" stroke="#950000" d="M2313 1010l143-44-22-10-143 45z"/><path fill="#990000" stroke="#990000" d="M2139 1067l174-57-22-9-174 56z"/><path fill="#a10000" stroke="#a10000" d="M1914 1144l225-77-22-10-226 78z"/><path fill="#b10000" stroke="#b10000" d="M1596 1266l318-122-23-9-317 122z"/><path fill="#e50000" stroke="#e50000" d="M1054 1521l542-255-22-9-543 255z"/><path fill="#810000" stroke="#810000" d="M3496 692l578-148 608-150-23-10-608 150-578 148z"/><path fill="#850000" stroke="#850000" d="M3022 819l474-127-23-10-474 127z"/><path fill="#890000" stroke="#890000" d="M2797 882l225-63-23-10-225 63z"/><path fill="#8d0000" stroke="#8d0000" d="M2600 939l197-57-23-10-197 58z"/><path fill="#910000" stroke="#910000" d="M2479 975l121-36-23-9-121 36z"/><path fill="#950000" stroke="#950000" d="M2337 1020l142-45-23-9-143 44z"/><path fill="#990000" stroke="#990000" d="M2162 1076l175-56-24-10-174 57z"/><path fill="#a10000" stroke="#a10000" d="M1937 1154l225-78-23-9-225 77z"/><path fill="#b10000" stroke="#b10000" d="M1619 1276l318-122-23-10-318 122z"/><path fill="#e50000" stroke="#e50000" d="M1077 1531l542-255-23-10-542 255z"/><path fill="#810000" stroke="#810000" d="M3520 702l578-148 608-150-24-10-608 150-578 148z"/><path fill="#850000" stroke="#850000" d="M3046 829l474-127-24-10-474 127z"/><path fill="#890000" stroke="#890000" d="M2821 892l225-63-24-10-225 63z"/><path fill="#8d0000" stroke="#8d0000" d="M2624 949l197-57-24-10-197 57z"/><path fill="#910000" stroke="#910000" d="M2503 986l121-37-24-10-121 36z"/><path fill="#950000" stroke="#950000" d="M2361 1030l142-44-24-11-142 45z"/><path fill="#990000" stroke="#990000" d="M2186 1086l175-56-24-10-175 56z"/><path fill="#a10000" stroke="#a10000" d="M1961 1164l225-78-24-10-225 78z"/><path fill="#b10000" stroke="#b10000" d="M1643 1286l318-122-24-10-318 122z"/><path fill="#e50000" stroke="#e50000" d="M1101 1541l542-255-24-10-542 255z"/><path fill="#810000" stroke="#810000" d="M3546 713l577-148 608-149-25-12-608 150-578 148z"/><path fill="#850000" stroke="#850000" d="M3071 840l475-127-26-11-474 127z"/><path fill="#890000" stroke="#890000" d="M2846 903l225-63-25-11-225 63z"/><path fill="#8d0000" stroke="#8d0000" d="M2649 960l197-57-25-11-197 57z"/><path fill="#910000" stroke="#910000" d="M2528 996l121-36-25-11-121 37z"/><path fill="#950000" stroke="#950000" d="M2386 1040l142-44-25-10-142 44z"/><path fill="#990000" stroke="#990000" d="M2211 1097l175-57-25-10-175 56z"/><path fill="#a10000" stroke="#a10000" d="M1986 1175l225-78-25-11-225 78z"/><path fill="#b10000" stroke="#b10000" d="M1668 1296l318-121-25-11-318 122z"/><path fill="#e50000" stroke="#e50000" d="M1126 1552l542-256-25-10-542 255z"/><path fill="#810000" stroke="#810000" d="M3606 715l576-147 575-141-26-11-608 149-543 138z"/><path fill="#850000" stroke="#850000" d="M3097 851l509-136-26-12-509 137z"/><path fill="#890000" stroke="#890000" d="M2872 914l225-63-26-11-225 63z"/><path fill="#8d0000" stroke="#8d0000" d="M2675 971l197-57-26-11-197 57z"/><path fill="#910000" stroke="#910000" d="M2555 1007l120-36-26-11-121 36z"/><path fill="#950000" stroke="#950000" d="M2412 1051l143-44-27-11-142 44z"/><path fill="#990000" stroke="#990000" d="M2237 1108l175-57-26-11-175 57z"/><path fill="#a10000" stroke="#a10000" d="M2012 1185l225-77-26-11-225 78z"/><path fill="#b10000" stroke="#b10000" d="M1695 1307l317-122-26-10-318 121z"/><path fill="#e50000" stroke="#e50000" d="M1152 1563l543-256-27-11-542 256z"/><path fill="#810000" stroke="#810000" d="M3634 726l576-146 574-141-27-12-575 141-576 147z"/><path fill="#850000" stroke="#850000" d="M3125 862l509-136-28-11-509 136z"/><path fill="#890000" stroke="#890000" d="M2899 925l226-63-28-11-225 63z"/><path fill="#8d0000" stroke="#8d0000" d="M2703 982l196-57-27-11-197 57z"/><path fill="#910000" stroke="#910000" d="M2582 1018l121-36-28-11-120 36z"/><path fill="#950000" stroke="#950000" d="M2439 1063l143-45-27-11-143 44z"/><path fill="#990000" stroke="#990000" d="M2264 1119l175-56-27-12-175 57z"/><path fill="#a10000" stroke="#a10000" d="M2039 1197l225-78-27-11-225 77z"/><path fill="#b10000" stroke="#b10000" d="M1722 1318l317-121-27-12-317 122z"/><path fill="#e50000" stroke="#e50000" d="M1179 1574l543-256-27-11-543 256z"/><path fill="#810000" stroke="#810000" d="M3696 730l542-138 575-140-29-13-574 141-543 137z"/><path fill="#850000" stroke="#850000" d="M3216 857l480-127-29-13-480 128z"/><path fill="#890000" stroke="#890000" d="M2928 937l288-80-29-12-288 80z"/><path fill="#8d0000" stroke="#8d0000" d="M2731 994l197-57-29-12-196 57z"/><path fill="#910000" stroke="#910000" d="M2611 1031l120-37-28-12-121 36z"/><path fill="#950000" stroke="#950000" d="M2468 1075l143-44-29-13-143 45z"/><path fill="#990000" stroke="#990000" d="M2293 1131l175-56-29-12-175 56z"/><path fill="#a10000" stroke="#a10000" d="M2068 1209l225-78-29-12-225 78z"/><path fill="#b50000" stroke="#b50000" d="M1751 1330l317-121-29-12-317 121z"/><path fill="#e50000" stroke="#e50000" d="M1208 1586l543-256-29-12-543 256z"/><path fill="#810000" stroke="#810000" d="M3726 742l542-137 575-139-30-14-575 140-542 138z"/><path fill="#850000" stroke="#850000" d="M3246 870l480-128-30-12-480 127z"/><path fill="#890000" stroke="#890000" d="M2958 950l288-80-30-13-288 80z"/><path fill="#8d0000" stroke="#8d0000" d="M2761 1007l197-57-30-13-197 57z"/><path fill="#910000" stroke="#910000" d="M2641 1043l120-36-30-13-120 37z"/><path fill="#950000" stroke="#950000" d="M2498 1087l143-44-30-12-143 44z"/><path fill="#990000" stroke="#990000" d="M2323 1144l175-57-30-12-175 56z"/><path fill="#a10000" stroke="#a10000" d="M2098 1221l225-77-30-13-225 78z"/><path fill="#b50000" stroke="#b50000" d="M1781 1343l317-122-30-12-317 121z"/><path fill="#e50000" stroke="#e50000" d="M1238 1599l543-256-30-13-543 256z"/><path fill="#850000" stroke="#850000" d="M4834 490l41-10-32-14-40 9z"/><path fill="#810000" stroke="#810000" d="M3789 748l511-129 534-129-31-15-535 130-510 129z"/><path fill="#850000" stroke="#850000" d="M3277 883l512-135-31-14-512 136z"/><path fill="#890000" stroke="#890000" d="M2990 963l287-80-31-13-288 80z"/><path fill="#8d0000" stroke="#8d0000" d="M2793 1020l197-57-32-13-197 57z"/><path fill="#910000" stroke="#910000" d="M2672 1056l121-36-32-13-120 36z"/><path fill="#950000" stroke="#950000" d="M2530 1101l142-45-31-13-143 44z"/><path fill="#990000" stroke="#990000" d="M2355 1157l175-56-32-14-175 57z"/><path fill="#a10000" stroke="#a10000" d="M2130 1235l225-78-32-13-225 77z"/><path fill="#b50000" stroke="#b50000" d="M1812 1356l318-121-32-14-317 122z"/><path fill="#e50000" stroke="#e50000" d="M1270 1612l542-256-31-13-543 256z"/><path fill="#850000" stroke="#850000" d="M4762 530l146-34-33-16-146 35z"/><path fill="#810000" stroke="#810000" d="M3853 754l447-112 462-112-33-15-462 112-447 113z"/><path fill="#850000" stroke="#850000" d="M3311 897l542-143-33-14-543 143z"/><path fill="#890000" stroke="#890000" d="M3023 977l288-80-34-14-287 80z"/><path fill="#8d0000" stroke="#8d0000" d="M2826 1034l197-57-33-14-197 57z"/><path fill="#910000" stroke="#910000" d="M2706 1070l120-36-33-14-121 36z"/><path fill="#950000" stroke="#950000" d="M2563 1115l143-45-34-14-142 45z"/><path fill="#990000" stroke="#990000" d="M2388 1171l175-56-33-14-175 56z"/><path fill="#a10000" stroke="#a10000" d="M2163 1249l225-78-33-14-225 78z"/><path fill="#b50000" stroke="#b50000" d="M1846 1370l317-121-33-14-318 121z"/><path fill="#e50000" stroke="#e50000" d="M1303 1626l543-256-34-14-542 256z"/><path fill="#850000" stroke="#850000" d="M4641 583l302-71-35-16-302 71z"/><path fill="#810000" stroke="#810000" d="M3947 755l354-89 340-83-35-16-694 172z"/><path fill="#850000" stroke="#850000" d="M3346 912l297-79 304-78-35-16-304 79-297 79z"/><path fill="#890000" stroke="#890000" d="M3058 992l288-80-35-15-288 80z"/><path fill="#8d0000" stroke="#8d0000" d="M2862 1049l196-57-35-15-197 57z"/><path fill="#910000" stroke="#910000" d="M2741 1085l121-36-36-15-120 36z"/><path fill="#950000" stroke="#950000" d="M2598 1130l143-45-35-15-143 45z"/><path fill="#990000" stroke="#990000" d="M2424 1186l174-56-35-15-175 56z"/><path fill="#a10000" stroke="#a10000" d="M2198 1264l226-78-36-15-225 78z"/><path fill="#b50000" stroke="#b50000" d="M1881 1385l317-121-35-15-317 121z"/><path fill="#e50000" stroke="#e50000" d="M1338 1641l543-256-35-15-543 256z"/><path fill="#850000" stroke="#850000" d="M4588 609l374-88-19-9-374 89z"/><path fill="#810000" stroke="#810000" d="M3993 756l595-147-19-8-595 147z"/><path fill="#850000" stroke="#850000" d="M3365 920l297-79 331-85-19-8-331 85-297 79z"/><path fill="#890000" stroke="#890000" d="M3077 1000l288-80-19-8-288 80z"/><path fill="#8d0000" stroke="#8d0000" d="M2880 1057l197-57-19-8-196 57z"/><path fill="#910000" stroke="#910000" d="M2759 1093l121-36-18-8-121 36z"/><path fill="#950000" stroke="#950000" d="M2617 1137l142-44-18-8-143 45z"/><path fill="#990000" stroke="#990000" d="M2442 1194l175-57-19-7-174 56z"/><path fill="#a10000" stroke="#a10000" d="M2217 1271l225-77-18-8-226 78z"/><path fill="#b50000" stroke="#b50000" d="M1899 1393l318-122-19-7-317 121z"/><path fill="#e50000" stroke="#e50000" d="M1357 1648l542-255-18-8-543 256z"/><path fill="#850000" stroke="#850000" d="M4499 644l482-114-19-9-482 114z"/><path fill="#810000" stroke="#810000" d="M4064 751l435-107-19-9-435 107z"/><path fill="#850000" stroke="#850000" d="M3384 928l337-89 343-88-19-9-343 88-337 90z"/><path fill="#890000" stroke="#890000" d="M3096 1008l288-80-19-8-288 80z"/><path fill="#8d0000" stroke="#8d0000" d="M2899 1065l197-57-19-8-197 57z"/><path fill="#910000" stroke="#910000" d="M2779 1101l120-36-19-8-121 36z"/><path fill="#950000" stroke="#950000" d="M2636 1145l143-44-20-8-142 44z"/><path fill="#990000" stroke="#990000" d="M2461 1202l175-57-19-8-175 57z"/><path fill="#a10000" stroke="#a10000" d="M2236 1279l225-77-19-8-225 77z"/><path fill="#b50000" stroke="#b50000" d="M1919 1401l317-122-19-8-318 122z"/><path fill="#e50000" stroke="#e50000" d="M1376 1656l543-255-20-8-542 255z"/><path fill="#850000" stroke="#850000" d="M4358 691l341-82 302-70-20-9-302 70-341 83z"/><path fill="#810000" stroke="#810000" d="M4201 730l157-39-20-8-157 38z"/><path fill="#850000" stroke="#850000" d="M3404 937l375-100 422-107-20-9-422 108-375 99z"/><path fill="#890000" stroke="#890000" d="M3116 1016l288-79-20-9-288 80z"/><path fill="#8d0000" stroke="#8d0000" d="M2919 1073l197-57-20-8-197 57z"/><path fill="#910000" stroke="#910000" d="M2798 1110l121-37-20-8-120 36z"/><path fill="#950000" stroke="#950000" d="M2656 1154l142-44-19-9-143 44z"/><path fill="#990000" stroke="#990000" d="M2481 1210l175-56-20-9-175 57z"/><path fill="#a10000" stroke="#a10000" d="M2256 1288l225-78-20-8-225 77z"/><path fill="#b50000" stroke="#b50000" d="M1938 1409l318-121-20-9-317 122z"/><path fill="#e50000" stroke="#e50000" d="M1396 1665l542-256-19-8-543 255z"/><path fill="#850000" stroke="#850000" d="M3424 945l375-99 422-107 426-103 374-87-20-10-375 87-425 104-422 107-375 100z"/><path fill="#890000" stroke="#890000" d="M3136 1025l288-80-20-8-288 79z"/><path fill="#8d0000" stroke="#8d0000" d="M2939 1082l197-57-20-9-197 57z"/><path fill="#910000" stroke="#910000" d="M2819 1118l120-36-20-9-121 37z"/><path fill="#950000" stroke="#950000" d="M2676 1162l143-44-21-8-142 44z"/><path fill="#990000" stroke="#990000" d="M2501 1219l175-57-20-8-175 56z"/><path fill="#a10000" stroke="#a10000" d="M2276 1296l225-77-20-9-225 78z"/><path fill="#b50000" stroke="#b50000" d="M1959 1418l317-122-20-8-318 121z"/><path fill="#e50000" stroke="#e50000" d="M1416 1673l543-255-21-9-542 256z"/><path fill="#850000" stroke="#850000" d="M3445 954l375-99 422-107 426-103 374-86-21-10-374 87-426 103-422 107-375 99z"/><path fill="#890000" stroke="#890000" d="M3157 1034l288-80-21-9-288 80z"/><path fill="#8d0000" stroke="#8d0000" d="M2960 1091l197-57-21-9-197 57z"/><path fill="#910000" stroke="#910000" d="M2840 1127l120-36-21-9-120 36z"/><path fill="#950000" stroke="#950000" d="M2697 1171l143-44-21-9-143 44z"/><path fill="#990000" stroke="#990000" d="M2522 1228l175-57-21-9-175 57z"/><path fill="#a10000" stroke="#a10000" d="M2297 1305l225-77-21-9-225 77z"/><path fill="#b50000" stroke="#b50000" d="M1980 1426l317-121-21-9-317 122z"/><path fill="#e50000" stroke="#e50000" d="M1437 1682l543-256-21-8-543 255z"/><path fill="#890000" stroke="#890000" d="M5024 579l40-9-22-11-40 9z"/><path fill="#850000" stroke="#850000" d="M3525 948l354-93 407-102 378-91 360-83-22-11-360 84-400 96-385 98-354 93z"/><path fill="#890000" stroke="#890000" d="M3179 1043l346-95-22-9-346 95z"/><path fill="#8d0000" stroke="#8d0000" d="M2982 1100l197-57-22-9-197 57z"/><path fill="#910000" stroke="#910000" d="M2862 1136l120-36-22-9-120 36z"/><path fill="#950000" stroke="#950000" d="M2719 1180l143-44-22-9-143 44z"/><path fill="#990000" stroke="#990000" d="M2544 1237l175-57-22-9-175 57z"/><path fill="#a10000" stroke="#a10000" d="M2319 1314l225-77-22-9-225 77z"/><path fill="#b50000" stroke="#b50000" d="M2002 1436l317-122-22-9-317 121z"/><path fill="#e50000" stroke="#e50000" d="M1459 1691l543-255-22-10-543 256z"/><path fill="#890000" stroke="#890000" d="M4995 601l92-20-23-11-91 20z"/><path fill="#850000" stroke="#850000" d="M3548 958l353-93 386-97 373-90 335-77-22-11-363 84-368 90-363 91-354 93z"/><path fill="#890000" stroke="#890000" d="M3202 1053l346-95-23-10-346 95z"/><path fill="#8d0000" stroke="#8d0000" d="M3005 1110l197-57-23-10-197 57z"/><path fill="#910000" stroke="#910000" d="M2884 1146l121-36-23-10-120 36z"/><path fill="#950000" stroke="#950000" d="M2742 1190l142-44-22-10-143 44z"/><path fill="#990000" stroke="#990000" d="M2567 1246l175-56-23-10-175 57z"/><path fill="#a10000" stroke="#a10000" d="M2342 1324l225-78-23-9-225 77z"/><path fill="#b50000" stroke="#b50000" d="M2024 1445l318-121-23-10-317 122z"/><path fill="#e50000" stroke="#e50000" d="M1482 1701l542-256-22-9-543 255z"/><path fill="#890000" stroke="#890000" d="M4936 632l174-39-23-12-175 39z"/><path fill="#850000" stroke="#850000" d="M3571 968l354-93 341-85 332-81 338-77-24-12-337 79-356 86-354 89-317 84z"/><path fill="#890000" stroke="#890000" d="M3225 1063l346-95-23-10-346 95z"/><path fill="#8d0000" stroke="#8d0000" d="M3029 1120l196-57-23-10-197 57z"/><path fill="#910000" stroke="#910000" d="M2908 1156l121-36-24-10-121 36z"/><path fill="#950000" stroke="#950000" d="M2765 1200l143-44-24-10-142 44z"/><path fill="#990000" stroke="#990000" d="M2590 1256l175-56-23-10-175 56z"/><path fill="#a10000" stroke="#a10000" d="M2365 1334l225-78-23-10-225 78z"/><path fill="#b50000" stroke="#b50000" d="M2048 1455l317-121-23-10-318 121z"/><path fill="#e50000" stroke="#e50000" d="M1505 1710l543-255-24-10-542 256z"/><path fill="#890000" stroke="#890000" d="M4878 662l257-57-25-12-257 57z"/><path fill="#850000" stroke="#850000" d="M3596 978l317-83 330-83 317-76 318-74-25-12-317 74-318 78-329 83-318 83z"/><path fill="#890000" stroke="#890000" d="M3250 1073l346-95-25-10-346 95z"/><path fill="#8d0000" stroke="#8d0000" d="M3053 1130l197-57-25-10-196 57z"/><path fill="#910000" stroke="#910000" d="M2932 1166l121-36-24-10-121 36z"/><path fill="#950000" stroke="#950000" d="M2790 1210l142-44-24-10-143 44z"/><path fill="#990000" stroke="#990000" d="M2615 1267l175-57-25-10-175 56z"/><path fill="#a10000" stroke="#a10000" d="M2390 1344l225-77-25-11-225 78z"/><path fill="#b50000" stroke="#b50000" d="M2072 1465l318-121-25-10-317 121z"/><path fill="#e50000" stroke="#e50000" d="M1530 1721l542-256-24-10-543 255z"/><path fill="#890000" stroke="#890000" d="M4835 690l325-71-25-14-325 73z"/><path fill="#850000" stroke="#850000" d="M3621 989l279-73 318-80 300-72 317-74-25-12-318 74-300 73-317 80-279 73z"/><path fill="#890000" stroke="#890000" d="M3275 1084l346-95-25-11-346 95z"/><path fill="#8d0000" stroke="#8d0000" d="M3079 1141l196-57-25-11-197 57z"/><path fill="#910000" stroke="#910000" d="M2958 1177l121-36-26-11-121 36z"/><path fill="#950000" stroke="#950000" d="M2815 1221l143-44-26-11-142 44z"/><path fill="#990000" stroke="#990000" d="M2641 1277l174-56-25-11-175 57z"/><path fill="#a10000" stroke="#a10000" d="M2415 1355l226-78-26-10-225 77z"/><path fill="#b50000" stroke="#b50000" d="M2098 1476l317-121-25-11-318 121z"/><path fill="#e50000" stroke="#e50000" d="M1555 1731l543-255-26-11-542 256z"/><path fill="#8d0000" stroke="#8d0000" d="M5147 641l40-8-27-14-40 8z"/><path fill="#890000" stroke="#890000" d="M4761 726l386-85-27-14-386 86z"/><path fill="#850000" stroke="#850000" d="M3702 987l543-139 516-122-27-13-543 130-516 132z"/><path fill="#890000" stroke="#890000" d="M3302 1096l400-109-27-12-400 109z"/><path fill="#8d0000" stroke="#8d0000" d="M3105 1152l197-56-27-12-196 57z"/><path fill="#910000" stroke="#910000" d="M2985 1188l120-36-26-11-121 36z"/><path fill="#950000" stroke="#950000" d="M2842 1232l143-44-27-11-143 44z"/><path fill="#990000" stroke="#990000" d="M2667 1289l175-57-27-11-174 56z"/><path fill="#a10000" stroke="#a10000" d="M2442 1366l225-77-26-12-226 78z"/><path fill="#b50000" stroke="#b50000" d="M2125 1487l317-121-27-11-317 121z"/><path fill="#e50000" stroke="#e50000" d="M1582 1743l543-256-27-11-543 255z"/><path fill="#8d0000" stroke="#8d0000" d="M5097 672l118-24-28-15-118 25z"/><path fill="#890000" stroke="#890000" d="M4703 759l394-87-28-14-394 88z"/><path fill="#850000" stroke="#850000" d="M3730 999l489-125 484-115-28-13-484 116-489 125z"/><path fill="#890000" stroke="#890000" d="M3330 1108l400-109-28-12-400 109z"/><path fill="#8d0000" stroke="#8d0000" d="M3133 1164l197-56-28-12-197 56z"/><path fill="#910000" stroke="#910000" d="M3013 1200l120-36-28-12-120 36z"/><path fill="#950000" stroke="#950000" d="M2870 1244l143-44-28-12-143 44z"/><path fill="#990000" stroke="#990000" d="M2695 1300l175-56-28-12-175 57z"/><path fill="#a10000" stroke="#a10000" d="M2470 1378l225-78-28-11-225 77z"/><path fill="#b50000" stroke="#b50000" d="M2153 1499l317-121-28-12-317 121z"/><path fill="#e50000" stroke="#e50000" d="M1610 1754l543-255-28-12-543 256z"/><path fill="#8d0000" stroke="#8d0000" d="M5030 708l214-44-29-16-215 45z"/><path fill="#890000" stroke="#890000" d="M4602 803l428-95-30-15-428 96z"/><path fill="#850000" stroke="#850000" d="M3810 999l409-104 383-92-30-14-382 92-410 105z"/><path fill="#890000" stroke="#890000" d="M3442 1097l368-98-30-13-367 99z"/><path fill="#8d0000" stroke="#8d0000" d="M3163 1177l279-80-29-12-280 79z"/><path fill="#910000" stroke="#910000" d="M3042 1213l121-36-30-13-120 36z"/><path fill="#950000" stroke="#950000" d="M2899 1257l143-44-29-13-143 44z"/><path fill="#990000" stroke="#990000" d="M2725 1313l174-56-29-13-175 56z"/><path fill="#a10000" stroke="#a10000" d="M2499 1390l226-77-30-13-225 78z"/><path fill="#b50000" stroke="#b50000" d="M2182 1511l317-121-29-12-317 121z"/><path fill="#e50000" stroke="#e50000" d="M1639 1767l543-256-29-12-543 255z"/><path fill="#910000" stroke="#910000" d="M5210 694l65-13-31-17-65 13z"/><path fill="#8d0000" stroke="#8d0000" d="M4973 742l237-48-31-17-237 50z"/><path fill="#890000" stroke="#890000" d="M4497 850l236-55 240-53-31-15-476 108z"/><path fill="#850000" stroke="#850000" d="M3888 1000l302-76 307-74-31-15-307 75-302 76z"/><path fill="#890000" stroke="#890000" d="M3473 1111l415-111-31-14-415 111z"/><path fill="#8d0000" stroke="#8d0000" d="M3193 1190l280-79-31-14-279 80z"/><path fill="#910000" stroke="#910000" d="M3073 1226l120-36-30-13-121 36z"/><path fill="#950000" stroke="#950000" d="M2930 1270l143-44-31-13-143 44z"/><path fill="#990000" stroke="#990000" d="M2755 1326l175-56-31-13-174 56z"/><path fill="#a10000" stroke="#a10000" d="M2530 1403l225-77-30-13-226 77z"/><path fill="#b50000" stroke="#b50000" d="M2213 1524l317-121-31-13-317 121z"/><path fill="#e50000" stroke="#e50000" d="M1670 1780l543-256-31-13-543 256z"/><path fill="#910000" stroke="#910000" d="M5162 728l146-28-33-19-146 29z"/><path fill="#8d0000" stroke="#8d0000" d="M4908 780l254-52-33-18-254 54z"/><path fill="#890000" stroke="#890000" d="M4339 910l290-68 279-62-33-16-279 62-290 69z"/><path fill="#850000" stroke="#850000" d="M4048 982l291-72-33-15-291 72z"/><path fill="#890000" stroke="#890000" d="M3505 1125l264-71 279-72-33-15-279 73-263 71z"/><path fill="#8d0000" stroke="#8d0000" d="M3226 1204l279-79-32-14-280 79z"/><path fill="#910000" stroke="#910000" d="M3105 1240l121-36-33-14-120 36z"/><path fill="#950000" stroke="#950000" d="M2963 1284l142-44-32-14-143 44z"/><path fill="#990000" stroke="#990000" d="M2788 1340l175-56-33-14-175 56z"/><path fill="#a10000" stroke="#a10000" d="M2563 1417l225-77-33-14-225 77z"/><path fill="#b50000" stroke="#b50000" d="M2245 1538l318-121-33-14-317 121z"/><path fill="#e50000" stroke="#e50000" d="M1703 1793l542-255-32-14-543 256z"/><path fill="#950000" stroke="#950000" d="M5277 732l65-12-34-20-66 12z"/><path fill="#910000" stroke="#910000" d="M5085 769l192-37-35-20-191 38z"/><path fill="#8d0000" stroke="#8d0000" d="M4830 822l255-53-34-19-255 55z"/><path fill="#890000" stroke="#890000" d="M3540 1140l317-85 335-85 328-78 310-70-34-17-310 70-329 80-334 85-318 85z"/><path fill="#8d0000" stroke="#8d0000" d="M3260 1219l280-79-35-15-279 79z"/><path fill="#910000" stroke="#910000" d="M3140 1255l120-36-34-15-121 36z"/><path fill="#950000" stroke="#950000" d="M2997 1298l143-43-35-15-142 44z"/><path fill="#990000" stroke="#990000" d="M2822 1354l175-56-34-14-175 56z"/><path fill="#a10000" stroke="#a10000" d="M2597 1432l225-78-34-14-225 77z"/><path fill="#b50000" stroke="#b50000" d="M2280 1553l317-121-34-15-318 121z"/><path fill="#e50000" stroke="#e50000" d="M1737 1808l543-255-35-15-542 255z"/><path fill="#990000" stroke="#990000" d="M5363 745l15-3-36-22-16 3z"/><path fill="#950000" stroke="#950000" d="M5204 774l159-29-37-22-159 30z"/><path fill="#910000" stroke="#910000" d="M5029 808l175-34-37-21-174 35z"/><path fill="#8d0000" stroke="#8d0000" d="M4736 869l293-61-36-20-294 63z"/><path fill="#890000" stroke="#890000" d="M3576 1156l263-71 318-80 305-73 274-63-37-18-274 63-305 74-317 81-263 71z"/><path fill="#8d0000" stroke="#8d0000" d="M3297 1235l279-79-36-16-280 79z"/><path fill="#910000" stroke="#910000" d="M3176 1270l121-35-37-16-120 36z"/><path fill="#950000" stroke="#950000" d="M3033 1314l143-44-36-15-143 43z"/><path fill="#990000" stroke="#990000" d="M2859 1370l174-56-36-16-175 56z"/><path fill="#a10000" stroke="#a10000" d="M2634 1447l225-77-37-16-225 78z"/><path fill="#b50000" stroke="#b50000" d="M2316 1568l318-121-37-15-317 121z"/><path fill="#e50000" stroke="#e50000" d="M1773 1823l543-255-36-15-543 255z"/><path fill="#990000" stroke="#990000" d="M5299 787l118-20-39-25-118 21z"/><path fill="#950000" stroke="#950000" d="M5138 816l161-29-39-24-161 31z"/><path fill="#910000" stroke="#910000" d="M4935 856l203-40-39-22-203 41z"/><path fill="#8d0000" stroke="#8d0000" d="M4639 919l296-63-39-21-296 65z"/><path fill="#890000" stroke="#890000" d="M3689 1153l243-64 225-57 235-56 247-57-39-19-246 57-235 57-226 57-242 64z"/><path fill="#8d0000" stroke="#8d0000" d="M3440 1221l249-68-38-18-250 69z"/><path fill="#910000" stroke="#910000" d="M3215 1287l225-66-39-17-225 66z"/><path fill="#950000" stroke="#950000" d="M3072 1331l143-44-39-17-143 44z"/><path fill="#990000" stroke="#990000" d="M2898 1386l174-55-39-17-174 56z"/><path fill="#a10000" stroke="#a10000" d="M2672 1463l226-77-39-16-225 77z"/><path fill="#b50000" stroke="#b50000" d="M2355 1584l317-121-38-16-318 121z"/><path fill="#e50000" stroke="#e50000" d="M1812 1839l543-255-39-16-543 255z"/><path fill="#9d0000" stroke="#9d0000" d="M5341 813l118-18-42-28-118 20z"/><path fill="#990000" stroke="#990000" d="M5223 833l118-20-42-26-117 21z"/><path fill="#950000" stroke="#950000" d="M5059 863l164-30-41-25-165 31z"/><path fill="#910000" stroke="#910000" d="M4851 904l208-41-42-24-208 43z"/><path fill="#8d0000" stroke="#8d0000" d="M4516 977l335-73-42-22-334 74z"/><path fill="#890000" stroke="#890000" d="M3799 1153l360-91 357-85-41-21-358 86-359 92z"/><path fill="#8d0000" stroke="#8d0000" d="M3482 1240l317-87-41-19-318 87z"/><path fill="#910000" stroke="#910000" d="M3256 1305l226-65-42-19-225 66z"/><path fill="#950000" stroke="#950000" d="M3114 1348l142-43-41-18-143 44z"/><path fill="#990000" stroke="#990000" d="M2939 1404l175-56-42-17-174 55z"/><path fill="#a10000" stroke="#a10000" d="M2714 1481l225-77-41-18-226 77z"/><path fill="#b50000" stroke="#b50000" d="M2396 1602l318-121-42-18-317 121z"/><path fill="#e50000" stroke="#e50000" d="M1854 1857l542-255-41-18-543 255z"/><path fill="#a50000" stroke="#a50000" d="M5487 828l16-2-44-31-16 2z"/><path fill="#a10000" stroke="#a10000" d="M5385 843l102-15-44-31-102 16z"/><path fill="#9d0000" stroke="#9d0000" d="M5268 861l117-18-44-30-118 20z"/><path fill="#990000" stroke="#990000" d="M5154 880l114-19-45-28-114 20z"/><path fill="#950000" stroke="#950000" d="M4991 910l163-30-45-27-162 32z"/><path fill="#910000" stroke="#910000" d="M4766 955l225-45-44-25-225 47z"/><path fill="#8d0000" stroke="#8d0000" d="M4353 1047l208-47 205-45-44-23-414 93z"/><path fill="#890000" stroke="#890000" d="M3906 1157l210-53 237-57-45-22-446 112z"/><path fill="#8d0000" stroke="#8d0000" d="M3526 1259l380-102-44-20-380 103z"/><path fill="#910000" stroke="#910000" d="M3301 1324l225-65-44-19-226 65z"/><path fill="#950000" stroke="#950000" d="M3158 1368l143-44-45-19-142 43z"/><path fill="#990000" stroke="#990000" d="M2984 1423l174-55-44-20-175 56z"/><path fill="#a10000" stroke="#a10000" d="M2758 1500l226-77-45-19-225 77z"/><path fill="#b50000" stroke="#b50000" d="M2441 1621l317-121-44-19-318 121z"/><path fill="#e50000" stroke="#e50000" d="M1898 1875l543-254-45-19-542 255z"/><path fill="#a90000" stroke="#a90000" d="M5486 870l65-8-48-36-65 9z"/><path fill="#a50000" stroke="#a50000" d="M5406 880l80-10-48-35-81 12z"/><path fill="#a10000" stroke="#a10000" d="M5294 896l112-16-49-33-111 18z"/><path fill="#9d0000" stroke="#9d0000" d="M5177 915l117-19-48-31-117 20z"/><path fill="#990000" stroke="#990000" d="M5069 934l108-19-48-30-108 20z"/><path fill="#950000" stroke="#950000" d="M4872 970l197-36-48-29-197 38z"/><path fill="#910000" stroke="#910000" d="M4635 1019l237-49-48-27-238 51z"/><path fill="#8d0000" stroke="#8d0000" d="M3574 1281l250-68 293-74 249-60 269-60-49-25-268 61-249 61-294 75-249 68z"/><path fill="#910000" stroke="#910000" d="M3349 1346l225-65-48-22-225 65z"/><path fill="#950000" stroke="#950000" d="M3206 1389l143-43-48-22-143 44z"/><path fill="#990000" stroke="#990000" d="M3032 1444l174-55-48-21-174 55z"/><path fill="#a10000" stroke="#a10000" d="M2806 1521l226-77-48-21-226 77z"/><path fill="#b50000" stroke="#b50000" d="M2489 1641l317-120-48-21-317 121z"/><path fill="#e50000" stroke="#e50000" d="M1946 1896l543-255-48-20-543 254z"/><path fill="#b10000" stroke="#b10000" d="M5564 908l40-4-53-42-40 5z"/><path fill="#ad0000" stroke="#ad0000" d="M5486 916l78-8-53-41-78 10z"/><path fill="#a90000" stroke="#a90000" d="M5389 928l97-12-53-39-96 13z"/><path fill="#a50000" stroke="#a50000" d="M5302 939l87-11-52-38-87 13z"/><path fill="#a10000" stroke="#a10000" d="M5204 954l98-15-52-36-98 16z"/><path fill="#9d0000" stroke="#9d0000" d="M5092 972l112-18-52-35-112 20z"/><path fill="#990000" stroke="#990000" d="M4961 994l131-22-52-33-131 24z"/><path fill="#950000" stroke="#950000" d="M4782 1028l179-34-52-31-179 36z"/><path fill="#910000" stroke="#910000" d="M4518 1083l264-55-52-29-264 57z"/><path fill="#8d0000" stroke="#8d0000" d="M3719 1279l225-59 175-44 185-44 214-49-52-27-400 95-400 104z"/><path fill="#910000" stroke="#910000" d="M3522 1334l197-55-53-24-196 55z"/><path fill="#950000" stroke="#950000" d="M3259 1412l263-78-52-24-264 79z"/><path fill="#990000" stroke="#990000" d="M3084 1467l175-55-53-23-174 55z"/><path fill="#a50000" stroke="#a50000" d="M2859 1543l225-76-52-23-226 77z"/><path fill="#b50000" stroke="#b50000" d="M2541 1664l318-121-53-22-317 120z"/><path fill="#e50000" stroke="#e50000" d="M1999 1918l542-254-52-23-543 255z"/><path fill="#bd0000" stroke="#bd0000" d="M5645 955l16-1-57-50-16 1z"/><path fill="#b90000" stroke="#b90000" d="M5596 958l49-3-57-50-50 5z"/><path fill="#b50000" stroke="#b50000" d="M5515 965l81-7-58-48-80 9z"/><path fill="#b10000" stroke="#b10000" d="M5446 972l69-7-57-46-69 9z"/><path fill="#ad0000" stroke="#ad0000" d="M5382 979l64-7-57-44-64 8z"/><path fill="#a90000" stroke="#a90000" d="M5312 987l70-8-57-43-71 10z"/><path fill="#a50000" stroke="#a50000" d="M5207 1001l105-14-58-41-104 16z"/><path fill="#a10000" stroke="#a10000" d="M5118 1014l89-13-57-39-89 15z"/><path fill="#9d0000" stroke="#9d0000" d="M4982 1037l136-23-57-37-136 24z"/><path fill="#990000" stroke="#990000" d="M4839 1062l143-25-57-36-143 27z"/><path fill="#950000" stroke="#950000" d="M4636 1102l203-40-57-34-203 42z"/><path fill="#910000" stroke="#910000" d="M4274 1181l202-45 160-34-57-32-362 83z"/><path fill="#8d0000" stroke="#8d0000" d="M3933 1265l341-84-57-28-341 84z"/><path fill="#910000" stroke="#910000" d="M3579 1360l354-95-57-28-354 97z"/><path fill="#950000" stroke="#950000" d="M3316 1437l263-77-57-26-263 78z"/><path fill="#9d0000" stroke="#9d0000" d="M3141 1492l175-55-57-25-175 55z"/><path fill="#a50000" stroke="#a50000" d="M2916 1568l225-76-57-25-225 76z"/><path fill="#b50000" stroke="#b50000" d="M2599 1688l317-120-57-25-318 121z"/><path fill="#e50000" stroke="#e50000" d="M2056 1942l543-254-58-24-542 254z"/><path fill="#c90000" stroke="#c90000" d="M5684 1016l40-1-63-61-40 2z"/><path fill="#c50000" stroke="#c50000" d="M5633 1018l51-2-63-60-51 4z"/><path fill="#c10000" stroke="#c10000" d="M5578 1021l55-3-63-58-55 5z"/><path fill="#bd0000" stroke="#bd0000" d="M5530 1024l48-3-63-56-48 5z"/><path fill="#b90000" stroke="#b90000" d="M5467 1028l63-4-63-54-63 6z"/><path fill="#b50000" stroke="#b50000" d="M5422 1032l45-4-63-52-45 5z"/><path fill="#b10000" stroke="#b10000" d="M5350 1039l72-7-63-51-72 9z"/><path fill="#ad0000" stroke="#ad0000" d="M5270 1048l80-9-63-49-80 11z"/><path fill="#a90000" stroke="#a90000" d="M5182 1059l88-11-63-47-89 13z"/><path fill="#a50000" stroke="#a50000" d="M5116 1068l66-9-64-45-65 11z"/><path fill="#a10000" stroke="#a10000" d="M4987 1088l129-20-63-43-129 22z"/><path fill="#9d0000" stroke="#9d0000" d="M4856 1110l131-22-63-41-131 24z"/><path fill="#990000" stroke="#990000" d="M4699 1139l157-29-63-39-157 31z"/><path fill="#950000" stroke="#950000" d="M4464 1186l235-47-63-37-235 50z"/><path fill="#910000" stroke="#910000" d="M3643 1389l196-53 226-58 225-53 174-39-63-34-175 40-225 55-225 59-197 54z"/><path fill="#950000" stroke="#950000" d="M3522 1423l121-34-64-29-120 34z"/><path fill="#990000" stroke="#990000" d="M3379 1465l143-42-63-29-143 43z"/><path fill="#9d0000" stroke="#9d0000" d="M3205 1520l174-55-63-28-175 55z"/><path fill="#a50000" stroke="#a50000" d="M2979 1596l226-76-64-28-225 76z"/><path fill="#b50000" stroke="#b50000" d="M2662 1715l317-119-63-28-317 120z"/><path fill="#e50000" stroke="#e50000" d="M2119 1969l543-254-63-27-543 254z"/><path fill="#dd0000" stroke="#dd0000" d="M5779 1090l16 1-71-76-15 0z"/><path fill="#d90000" stroke="#d90000" d="M5755 1090l24 0-70-75-25 1z"/><path fill="#d50000" stroke="#d50000" d="M5704 1089l51 1-71-74-51 2z"/><path fill="#d10000" stroke="#d10000" d="M5677 1089l27 0-71-71-27 1z"/><path fill="#cd0000" stroke="#cd0000" d="M5620 1090l57-1-71-70-56 3z"/><path fill="#c90000" stroke="#c90000" d="M5580 1091l40-1-70-68-41 3z"/><path fill="#c50000" stroke="#c50000" d="M5516 1094l64-3-71-66-64 5z"/><path fill="#c10000" stroke="#c10000" d="M5470 1096l46-2-71-64-46 4z"/><path fill="#bd0000" stroke="#bd0000" d="M5421 1099l49-3-71-62-49 5z"/><path fill="#b90000" stroke="#b90000" d="M5369 1103l52-4-71-60-52 6z"/><path fill="#b50000" stroke="#b50000" d="M5283 1111l86-8-71-58-86 10z"/><path fill="#b10000" stroke="#b10000" d="M5221 1117l62-6-71-56-62 9z"/><path fill="#ad0000" stroke="#ad0000" d="M5152 1125l69-8-71-53-68 9z"/><path fill="#a90000" stroke="#a90000" d="M5058 1137l94-12-70-52-95 15z"/><path fill="#a50000" stroke="#a50000" d="M4973 1149l85-12-71-49-84 14z"/><path fill="#a10000" stroke="#a10000" d="M4853 1168l120-19-70-47-121 21z"/><path fill="#9d0000" stroke="#9d0000" d="M4710 1193l143-25-71-45-143 27z"/><path fill="#990000" stroke="#990000" d="M4535 1226l175-33-71-43-175 36z"/><path fill="#950000" stroke="#950000" d="M4198 1300l163-37 174-37-71-40-337 77z"/><path fill="#910000" stroke="#910000" d="M3910 1370l288-70-71-37-288 73z"/><path fill="#950000" stroke="#950000" d="M3593 1456l317-86-71-34-317 87z"/><path fill="#990000" stroke="#990000" d="M3450 1498l143-42-71-33-143 42z"/><path fill="#9d0000" stroke="#9d0000" d="M3275 1552l175-54-71-33-174 55z"/><path fill="#a50000" stroke="#a50000" d="M3050 1627l225-75-70-32-226 76z"/><path fill="#b50000" stroke="#b50000" d="M2733 1746l317-119-71-31-317 119z"/><path fill="#e50000" stroke="#e50000" d="M2190 1999l543-253-71-31-543 254z"/><path fill="#f50000" stroke="#f50000" d="M5860 1188l15 1-80-98-16-1z"/><path fill="#f10000" stroke="#f10000" d="M5810 1184l50 4-81-98-49-1z"/><path fill="#ed0000" stroke="#ed0000" d="M5784 1182l26 2-80-95-26 0z"/><path fill="#e90000" stroke="#e90000" d="M5757 1180l27 2-80-93-27 0z"/><path fill="#e50000" stroke="#e50000" d="M5730 1179l27 1-80-91-28 1z"/><path fill="#e10000" stroke="#e10000" d="M5681 1177l49 2-81-89-48 1z"/><path fill="#dd0000" stroke="#dd0000" d="M5640 1176l41 1-80-86-42 1z"/><path fill="#d90000" stroke="#d90000" d="M5618 1176l22 0-81-84-21 1z"/><path fill="#d50000" stroke="#d50000" d="M5573 1176l45 0-80-83-45 2z"/><path fill="#d10000" stroke="#d10000" d="M5526 1176l47 0-80-81-47 3z"/><path fill="#cd0000" stroke="#cd0000" d="M5476 1177l50-1-80-78-51 3z"/><path fill="#c90000" stroke="#c90000" d="M5449 1178l27-1-81-76-26 2z"/><path fill="#c50000" stroke="#c50000" d="M5393 1180l56-2-80-75-56 5z"/><path fill="#c10000" stroke="#c10000" d="M5333 1183l60-3-80-72-60 6z"/><path fill="#bd0000" stroke="#bd0000" d="M5268 1188l65-5-80-69-66 7z"/><path fill="#b90000" stroke="#b90000" d="M5233 1191l35-3-81-67-35 4z"/><path fill="#b50000" stroke="#b50000" d="M5158 1197l75-6-81-66-74 10z"/><path fill="#b10000" stroke="#b10000" d="M5076 1206l82-9-80-62-83 11z"/><path fill="#ad0000" stroke="#ad0000" d="M5008 1214l68-8-81-60-68 10z"/><path fill="#a90000" stroke="#a90000" d="M4906 1228l102-14-81-58-101 17z"/><path fill="#a50000" stroke="#a50000" d="M4821 1241l85-13-80-55-85 14z"/><path fill="#a10000" stroke="#a10000" d="M4690 1262l131-21-80-54-131 25z"/><path fill="#9d0000" stroke="#9d0000" d="M4533 1291l157-29-80-50-157 31z"/><path fill="#990000" stroke="#990000" d="M4278 1343l255-52-80-48-255 57z"/><path fill="#950000" stroke="#950000" d="M3794 1461l279-71 205-47-80-43-205 49-280 73z"/><path fill="#990000" stroke="#990000" d="M3530 1535l264-74-81-39-263 76z"/><path fill="#9d0000" stroke="#9d0000" d="M3356 1588l174-53-80-37-175 54z"/><path fill="#a50000" stroke="#a50000" d="M3130 1663l226-75-81-36-225 75z"/><path fill="#b50000" stroke="#b50000" d="M2813 1781l317-118-80-36-317 119z"/><path fill="#e50000" stroke="#e50000" d="M2270 2033l543-252-80-35-543 253z"/><path fill="#ff1a00" stroke="#ff1a00" d="M5952 1319l16 3-93-133-15-1z"/><path fill="#ff1600" stroke="#ff1600" d="M5928 1315l24 4-92-131-25-2z"/><path fill="#ff1200" stroke="#ff1200" d="M5903 1311l25 4-93-129-25-2z"/><path fill="#ff0e00" stroke="#ff0e00" d="M5877 1307l26 4-93-127-26-2z"/><path fill="#ff0a00" stroke="#ff0a00" d="M5850 1303l27 4-93-125-27-2z"/><path fill="#ff0600" stroke="#ff0600" d="M5822 1299l28 4-93-123-27-1z"/><path fill="#ff0200" stroke="#ff0200" d="M5793 1295l29 4-92-120-29-1z"/><path fill="#fd0000" stroke="#fd0000" d="M5753 1291l40 4-92-117-40-1z"/><path fill="#f90000" stroke="#f90000" d="M5732 1289l21 2-92-114-21-1z"/><path fill="#f50000" stroke="#f50000" d="M5689 1285l43 4-92-113-44 0z"/><path fill="#f10000" stroke="#f10000" d="M5666 1284l23 1-93-109-23 0z"/><path fill="#ed0000" stroke="#ed0000" d="M5643 1282l23 2-93-108-23 0z"/><path fill="#e90000" stroke="#e90000" d="M5594 1279l49 3-93-106-49 0z"/><path fill="#e50000" stroke="#e50000" d="M5568 1278l26 1-93-103-25 1z"/><path fill="#e10000" stroke="#e10000" d="M5542 1277l26 1-92-101-27 1z"/><path fill="#dd0000" stroke="#dd0000" d="M5486 1276l56 1-93-99-56 2z"/><path fill="#d90000" stroke="#d90000" d="M5456 1275l30 1-93-96-30 2z"/><path fill="#d50000" stroke="#d50000" d="M5425 1275l31 0-93-93-30 1z"/><path fill="#d10000" stroke="#d10000" d="M5393 1276l32-1-92-92-32 2z"/><path fill="#cd0000" stroke="#cd0000" d="M5325 1277l68-1-92-91-68 6z"/><path fill="#c90000" stroke="#c90000" d="M5289 1278l36-1-92-86-37 3z"/><path fill="#c50000" stroke="#c50000" d="M5231 1281l58-3-93-84-58 5z"/><path fill="#c10000" stroke="#c10000" d="M5168 1285l63-4-93-82-62 7z"/><path fill="#bd0000" stroke="#bd0000" d="M5124 1288l44-3-92-79-45 5z"/><path fill="#b90000" stroke="#b90000" d="M5051 1294l73-6-93-77-72 10z"/><path fill="#b50000" stroke="#b50000" d="M4999 1299l52-5-92-73-53 7z"/><path fill="#b10000" stroke="#b10000" d="M4914 1309l85-10-93-71-85 13z"/><path fill="#ad0000" stroke="#ad0000" d="M4818 1321l96-12-93-68-96 15z"/><path fill="#a90000" stroke="#a90000" d="M4746 1331l72-10-93-65-71 12z"/><path fill="#a50000" stroke="#a50000" d="M4626 1350l120-19-92-63-121 23z"/><path fill="#a10000" stroke="#a10000" d="M4483 1376l143-26-93-59-143 28z"/><path fill="#9d0000" stroke="#9d0000" d="M4240 1425l243-49-93-57-243 54z"/><path fill="#990000" stroke="#990000" d="M3766 1540l225-58 249-57-93-52-249 61-225 60z"/><path fill="#9d0000" stroke="#9d0000" d="M3623 1580l143-40-93-46-143 41z"/><path fill="#a10000" stroke="#a10000" d="M3448 1632l175-52-93-45-174 53z"/><path fill="#a90000" stroke="#a90000" d="M3223 1705l225-73-92-44-226 75z"/><path fill="#b50000" stroke="#b50000" d="M2906 1822l317-117-93-42-317 118z"/><path fill="#e50000" stroke="#e50000" d="M2363 2073l543-251-93-41-543 252z"/><path fill="#ff5200" stroke="#ff5200" d="M6062 1504l16 5-110-187-16-3z"/><path fill="#ff4e00" stroke="#ff4e00" d="M6037 1497l25 7-110-185-24-4z"/><path fill="#ff4a00" stroke="#ff4a00" d="M6012 1490l25 7-109-182-25-4z"/><path fill="#ff4200" stroke="#ff4200" d="M5986 1483l26 7-109-179-26-4z"/><path fill="#ff3e00" stroke="#ff3e00" d="M5960 1476l26 7-109-176-27-4z"/><path fill="#ff3a00" stroke="#ff3a00" d="M5932 1469l28 7-110-173-28-4z"/><path fill="#ff3200" stroke="#ff3200" d="M5903 1462l29 7-110-170-29-4z"/><path fill="#ff2e00" stroke="#ff2e00" d="M5883 1458l20 4-110-167-19-2z"/><path fill="#ff2a00" stroke="#ff2a00" d="M5863 1453l20 5-109-165-21-2z"/><path fill="#ff2600" stroke="#ff2600" d="M5842 1449l21 4-110-162-21-2z"/><path fill="#ff2200" stroke="#ff2200" d="M5798 1440l44 9-110-160-43-4z"/><path fill="#ff1e00" stroke="#ff1e00" d="M5776 1436l22 4-109-155-23-1z"/><path fill="#ff1a00" stroke="#ff1a00" d="M5752 1432l24 4-110-152-23-2z"/><path fill="#ff1600" stroke="#ff1600" d="M5728 1428l24 4-109-150-24-2z"/><path fill="#ff1200" stroke="#ff1200" d="M5703 1425l25 3-109-148-25-1z"/><path fill="#ff0e00" stroke="#ff0e00" d="M5678 1421l25 4-109-146-26-1z"/><path fill="#ff0a00" stroke="#ff0a00" d="M5651 1417l27 4-110-143-26-1z"/><path fill="#ff0600" stroke="#ff0600" d="M5624 1414l27 3-109-140-28-1z"/><path fill="#ff0200" stroke="#ff0200" d="M5595 1411l29 3-110-138-28 0z"/><path fill="#f90000" stroke="#f90000" d="M5566 1408l29 3-109-135-30-1z"/><path fill="#f50000" stroke="#f50000" d="M5535 1405l31 3-110-133-31 0z"/><path fill="#f10000" stroke="#f10000" d="M5503 1403l32 2-110-130-32 1z"/><path fill="#ed0000" stroke="#ed0000" d="M5470 1400l33 3-110-127-33 0z"/><path fill="#e90000" stroke="#e90000" d="M5435 1398l35 2-110-124-35 1z"/><path fill="#e50000" stroke="#e50000" d="M5399 1397l36 1-110-121-36 1z"/><path fill="#e10000" stroke="#e10000" d="M5341 1395l58 2-110-119-58 3z"/><path fill="#dd0000" stroke="#dd0000" d="M5299 1394l42 1-110-114-41 2z"/><path fill="#d90000" stroke="#d90000" d="M5278 1394l21 0-109-111-22 2z"/><path fill="#d50000" stroke="#d50000" d="M5233 1394l45 0-110-109-44 3z"/><path fill="#d10000" stroke="#d10000" d="M5186 1395l47-1-109-106-48 4z"/><path fill="#cd0000" stroke="#cd0000" d="M5135 1397l51-2-110-103-50 5z"/><path fill="#c90000" stroke="#c90000" d="M5081 1399l54-2-109-100-54 5z"/><path fill="#c50000" stroke="#c50000" d="M5053 1401l28-2-109-97-29 3z"/><path fill="#c10000" stroke="#c10000" d="M4992 1405l61-4-110-96-60 8z"/><path fill="#bd0000" stroke="#bd0000" d="M4927 1410l65-5-109-92-65 8z"/><path fill="#b90000" stroke="#b90000" d="M4856 1416l71-6-109-89-72 10z"/><path fill="#b50000" stroke="#b50000" d="M4778 1425l78-9-110-85-78 12z"/><path fill="#b10000" stroke="#b10000" d="M4691 1436l87-11-110-82-87 15z"/><path fill="#ad0000" stroke="#ad0000" d="M4593 1450l98-14-110-78-98 18z"/><path fill="#a90000" stroke="#a90000" d="M4481 1468l112-18-110-74-112 21z"/><path fill="#a50000" stroke="#a50000" d="M4350 1492l131-24-110-71-131 28z"/><path fill="#a10000" stroke="#a10000" d="M3733 1636l263-68 197-44 157-32-110-67-157 35-197 48-263 72z"/><path fill="#a50000" stroke="#a50000" d="M3558 1686l175-50-110-56-175 52z"/><path fill="#a90000" stroke="#a90000" d="M3333 1757l225-71-110-54-225 73z"/><path fill="#b90000" stroke="#b90000" d="M3015 1872l318-115-110-52-317 117z"/><path fill="#e50000" stroke="#e50000" d="M2473 2121l542-249-109-50-543 251z"/><path fill="#ffa900" stroke="#ffa900" d="M6196 1778l16 7-134-276-16-5z"/><path fill="#ffa500" stroke="#ffa500" d="M6172 1767l24 11-134-274-25-7z"/><path fill="#ff9d00" stroke="#ff9d00" d="M6146 1756l26 11-135-270-25-7z"/><path fill="#ff9500" stroke="#ff9500" d="M6121 1745l25 11-134-266-26-7z"/><path fill="#ff8d00" stroke="#ff8d00" d="M6094 1734l27 11-135-262-26-7z"/><path fill="#ff8900" stroke="#ff8900" d="M6066 1723l28 11-134-258-28-7z"/><path fill="#ff8100" stroke="#ff8100" d="M6037 1712l29 11-134-254-29-7z"/><path fill="#ff7e00" stroke="#ff7e00" d="M6017 1705l20 7-134-250-20-4z"/><path fill="#ff7600" stroke="#ff7600" d="M5997 1697l20 8-134-247-20-5z"/><path fill="#ff7200" stroke="#ff7200" d="M5976 1690l21 7-134-244-21-4z"/><path fill="#ff6e00" stroke="#ff6e00" d="M5955 1682l21 8-134-241-22-4z"/><path fill="#ff6600" stroke="#ff6600" d="M5933 1675l22 7-135-237-22-5z"/><path fill="#ff6200" stroke="#ff6200" d="M5910 1667l23 8-135-235-22-4z"/><path fill="#ff5e00" stroke="#ff5e00" d="M5886 1660l24 7-134-231-24-4z"/><path fill="#ff5600" stroke="#ff5600" d="M5862 1652l24 8-134-228-24-4z"/><path fill="#ff5200" stroke="#ff5200" d="M5838 1645l24 7-134-224-25-3z"/><path fill="#ff4e00" stroke="#ff4e00" d="M5812 1638l26 7-135-220-25-4z"/><path fill="#ff4600" stroke="#ff4600" d="M5785 1630l27 8-134-217-27-4z"/><path fill="#ff4200" stroke="#ff4200" d="M5758 1623l27 7-134-213-27-3z"/><path fill="#ff3e00" stroke="#ff3e00" d="M5729 1616l29 7-134-209-29-3z"/><path fill="#ff3600" stroke="#ff3600" d="M5700 1609l29 7-134-205-29-3z"/><path fill="#ff3200" stroke="#ff3200" d="M5669 1602l31 7-134-201-31-3z"/><path fill="#ff2a00" stroke="#ff2a00" d="M5637 1595l32 7-134-197-32-2z"/><path fill="#ff2600" stroke="#ff2600" d="M5604 1589l33 6-134-192-33-3z"/><path fill="#ff1e00" stroke="#ff1e00" d="M5569 1582l35 7-134-189-35-2z"/><path fill="#ff1a00" stroke="#ff1a00" d="M5533 1576l36 6-134-184-36-1z"/><path fill="#ff1200" stroke="#ff1200" d="M5494 1570l39 6-134-179-39-2z"/><path fill="#ff0e00" stroke="#ff0e00" d="M5454 1565l40 5-134-175-40 0z"/><path fill="#ff0a00" stroke="#ff0a00" d="M5433 1562l21 3-134-170-21-1z"/><path fill="#ff0600" stroke="#ff0600" d="M5412 1560l21 2-134-168-21 0z"/><path fill="#ff0200" stroke="#ff0200" d="M5390 1557l22 3-134-166-22 0z"/><path fill="#fd0000" stroke="#fd0000" d="M5344 1553l46 4-134-163-46 1z"/><path fill="#f90000" stroke="#f90000" d="M5320 1551l24 2-134-158-24 0z"/><path fill="#f50000" stroke="#f50000" d="M5295 1549l25 2-134-156-25 1z"/><path fill="#f10000" stroke="#f10000" d="M5269 1547l26 2-134-153-26 1z"/><path fill="#ed0000" stroke="#ed0000" d="M5215 1544l54 3-134-150-54 2z"/><path fill="#e90000" stroke="#e90000" d="M5187 1543l28 1-134-145-28 2z"/><path fill="#e50000" stroke="#e50000" d="M5157 1542l30 1-134-142-30 1z"/><path fill="#e10000" stroke="#e10000" d="M5127 1541l30 1-134-140-31 3z"/><path fill="#dd0000" stroke="#dd0000" d="M5095 1541l32 0-135-136-32 2z"/><path fill="#d90000" stroke="#d90000" d="M5026 1541l69 0-135-134-68 6z"/><path fill="#d50000" stroke="#d50000" d="M4990 1542l36-1-134-128-36 3z"/><path fill="#d10000" stroke="#d10000" d="M4952 1543l38-1-134-126-38 4z"/><path fill="#cd0000" stroke="#cd0000" d="M4912 1545l40-2-134-123-40 5z"/><path fill="#c90000" stroke="#c90000" d="M4869 1547l43-2-134-120-43 5z"/><path fill="#c50000" stroke="#c50000" d="M4777 1553l92-6-134-117-92 13z"/><path fill="#c10000" stroke="#c10000" d="M4727 1557l50-4-134-110-50 7z"/><path fill="#bd0000" stroke="#bd0000" d="M4673 1563l54-6-134-107-54 9z"/><path fill="#b90000" stroke="#b90000" d="M4615 1569l58-6-134-104-58 9z"/><path fill="#b50000" stroke="#b50000" d="M4484 1586l131-17-134-101-131 24z"/><path fill="#b10000" stroke="#b10000" d="M4409 1598l75-12-134-94-75 14z"/><path fill="#ad0000" stroke="#ad0000" d="M4235 1628l174-30-134-92-175 38z"/><path fill="#a90000" stroke="#a90000" d="M3692 1756l175-46 142-34 226-48-135-84-225 54-142 38-175 50z"/><path fill="#ad0000" stroke="#ad0000" d="M3467 1824l225-68-134-70-225 71z"/><path fill="#bd0000" stroke="#bd0000" d="M3149 1936l318-112-134-67-318 115z"/><path fill="#e90000" stroke="#e90000" d="M2607 2181l542-245-134-64-542 249z"/><path fill="#c5ff3a" stroke="#c5ff3a" d="M6369 2204l16 9-173-428-16-7z"/><path fill="#cdff32" stroke="#cdff32" d="M6345 2189l24 15-173-426-24-11z"/><path fill="#d5ff2a" stroke="#d5ff2a" d="M6319 2174l26 15-173-422-26-11z"/><path fill="#e1ff1e" stroke="#e1ff1e" d="M6293 2159l26 15-173-418-25-11z"/><path fill="#e9ff16" stroke="#e9ff16" d="M6267 2143l26 16-172-414-27-11z"/><path fill="#f1ff0e" stroke="#f1ff0e" d="M6239 2127l28 16-173-409-28-11z"/><path fill="#f9ff06" stroke="#f9ff06" d="M6210 2111l29 16-173-404-29-11z"/><path fill="#fffd00" stroke="#fffd00" d="M6190 2100l20 11-173-399-20-7z"/><path fill="#fff500" stroke="#fff500" d="M6170 2089l20 11-173-395-20-8z"/><path fill="#fff100" stroke="#fff100" d="M6149 2078l21 11-173-392-21-7z"/><path fill="#ffe900" stroke="#ffe900" d="M6128 2066l21 12-173-388-21-8z"/><path fill="#ffe100" stroke="#ffe100" d="M6105 2055l23 11-173-384-22-7z"/><path fill="#ffdd00" stroke="#ffdd00" d="M6083 2043l22 12-172-380-23-8z"/><path fill="#ffd500" stroke="#ffd500" d="M6059 2031l24 12-173-376-24-7z"/><path fill="#ffcd00" stroke="#ffcd00" d="M6035 2019l24 12-173-371-24-8z"/><path fill="#ffc500" stroke="#ffc500" d="M6010 2007l25 12-173-367-24-7z"/><path fill="#ffbd00" stroke="#ffbd00" d="M5985 1994l25 13-172-362-26-7z"/><path fill="#ffb500" stroke="#ffb500" d="M5958 1982l27 12-173-356-27-8z"/><path fill="#ffad00" stroke="#ffad00" d="M5931 1969l27 13-173-352-27-7z"/><path fill="#ffa500" stroke="#ffa500" d="M5902 1957l29 12-173-346-29-7z"/><path fill="#ff9d00" stroke="#ff9d00" d="M5873 1944l29 13-173-341-29-7z"/><path fill="#ff9500" stroke="#ff9500" d="M5842 1931l31 13-173-335-31-7z"/><path fill="#ff8d00" stroke="#ff8d00" d="M5810 1918l32 13-173-329-32-7z"/><path fill="#ff8500" stroke="#ff8500" d="M5777 1905l33 13-173-323-33-6z"/><path fill="#ff7e00" stroke="#ff7e00" d="M5742 1892l35 13-173-316-35-7z"/><path fill="#ff7600" stroke="#ff7600" d="M5706 1879l36 13-173-310-36-6z"/><path fill="#ff6a00" stroke="#ff6a00" d="M5667 1865l39 14-173-303-39-6z"/><path fill="#ff6600" stroke="#ff6600" d="M5648 1859l19 6-173-295-19-2z"/><path fill="#ff6200" stroke="#ff6200" d="M5627 1852l21 7-173-291-21-3z"/><path fill="#ff5e00" stroke="#ff5e00" d="M5606 1846l21 6-173-287-21-3z"/><path fill="#ff5a00" stroke="#ff5a00" d="M5585 1839l21 7-173-284-21-2z"/><path fill="#ff5600" stroke="#ff5600" d="M5563 1833l22 6-173-279-22-3z"/><path fill="#ff4e00" stroke="#ff4e00" d="M5540 1826l23 7-173-276-23-2z"/><path fill="#ff4a00" stroke="#ff4a00" d="M5517 1820l23 6-173-271-23-2z"/><path fill="#ff4600" stroke="#ff4600" d="M5493 1814l24 6-173-267-24-2z"/><path fill="#ff4200" stroke="#ff4200" d="M5468 1808l25 6-173-263-25-2z"/><path fill="#ff3a00" stroke="#ff3a00" d="M5442 1801l26 7-173-259-26-2z"/><path fill="#ff3600" stroke="#ff3600" d="M5416 1795l26 6-173-254-26-2z"/><path fill="#ff3200" stroke="#ff3200" d="M5388 1789l28 6-173-250-28-1z"/><path fill="#ff2e00" stroke="#ff2e00" d="M5360 1783l28 6-173-245-28-1z"/><path fill="#ff2600" stroke="#ff2600" d="M5330 1778l30 5-173-240-30-1z"/><path fill="#ff2200" stroke="#ff2200" d="M5299 1772l31 6-173-236-30-1z"/><path fill="#ff1e00" stroke="#ff1e00" d="M5267 1767l32 5-172-231-32 0z"/><path fill="#ff1600" stroke="#ff1600" d="M5234 1762l33 5-172-226-34 0z"/><path fill="#ff1200" stroke="#ff1200" d="M5199 1757l35 5-173-221-35 0z"/><path fill="#ff0e00" stroke="#ff0e00" d="M5163 1752l36 5-173-216-36 1z"/><path fill="#ff0600" stroke="#ff0600" d="M5125 1748l38 4-173-210-38 1z"/><path fill="#ff0200" stroke="#ff0200" d="M5085 1744l40 4-173-205-40 2z"/><path fill="#f90000" stroke="#f90000" d="M5042 1741l43 3-173-199-43 2z"/><path fill="#f50000" stroke="#f50000" d="M4998 1738l44 3-173-194-44 3z"/><path fill="#f10000" stroke="#f10000" d="M4950 1736l48 2-173-188-48 3z"/><path fill="#e90000" stroke="#e90000" d="M4900 1734l50 2-173-183-50 4z"/><path fill="#e50000" stroke="#e50000" d="M4846 1733l54 1-173-177-54 6z"/><path fill="#dd0000" stroke="#dd0000" d="M4788 1734l58-1-173-170-58 6z"/><path fill="#d90000" stroke="#d90000" d="M4725 1735l63-1-173-165-63 8z"/><path fill="#d50000" stroke="#d50000" d="M4657 1738l68-3-173-158-68 9z"/><path fill="#cd0000" stroke="#cd0000" d="M4582 1743l75-5-173-152-75 12z"/><path fill="#c90000" stroke="#c90000" d="M4500 1750l82-7-173-145-82 13z"/><path fill="#c50000" stroke="#c50000" d="M4407 1760l93-10-173-139-92 17z"/><path fill="#bd0000" stroke="#bd0000" d="M4303 1774l104-14-172-132-105 21z"/><path fill="#b90000" stroke="#b90000" d="M4040 1821l142-28 121-19-173-125-121 27-142 34z"/><path fill="#b50000" stroke="#b50000" d="M3865 1860l175-39-173-111-175 46z"/><path fill="#b90000" stroke="#b90000" d="M3640 1920l225-60-173-104-225 68z"/><path fill="#c10000" stroke="#c10000" d="M3322 2024l318-104-173-96-318 112z"/><path fill="#ed0000" stroke="#ed0000" d="M2780 2261l542-237-173-88-542 245z"/><path fill="#00e5ff" stroke="#00e5ff" d="M6613 2867l15 9-243-663-16-9z"/><path fill="#00edff" stroke="#00edff" d="M6588 2852l25 15-244-663-24-15z"/><path fill="#00f5ff" stroke="#00f5ff" d="M6563 2836l25 16-243-663-26-15z"/><path fill="#00fdff" stroke="#00fdff" d="M6537 2820l26 16-244-662-26-15z"/><path fill="#0afff5" stroke="#0afff5" d="M6510 2803l27 17-244-661-26-16z"/><path fill="#12ffed" stroke="#12ffed" d="M6483 2785l27 18-243-660-28-16z"/><path fill="#1effe1" stroke="#1effe1" d="M6454 2767l29 18-244-658-29-16z"/><path fill="#26ffd9" stroke="#26ffd9" d="M6434 2754l20 13-244-656-20-11z"/><path fill="#2affd5" stroke="#2affd5" d="M6414 2741l20 13-244-654-20-11z"/><path fill="#32ffcd" stroke="#32ffcd" d="M6393 2728l21 13-244-652-21-11z"/><path fill="#3affc5" stroke="#3affc5" d="M6371 2714l22 14-244-650-21-12z"/><path fill="#42ffbd" stroke="#42ffbd" d="M6349 2700l22 14-243-648-23-11z"/><path fill="#4affb5" stroke="#4affb5" d="M6326 2685l23 15-244-645-22-12z"/><path fill="#52ffad" stroke="#52ffad" d="M6303 2670l23 15-243-642-24-12z"/><path fill="#5affa5" stroke="#5affa5" d="M6279 2654l24 16-244-639-24-12z"/><path fill="#66ff99" stroke="#66ff99" d="M6254 2638l25 16-244-635-25-12z"/><path fill="#6eff91" stroke="#6eff91" d="M6228 2622l26 16-244-631-25-13z"/><path fill="#76ff89" stroke="#76ff89" d="M6202 2605l26 17-243-628-27-12z"/><path fill="#81ff7e" stroke="#81ff7e" d="M6174 2587l28 18-244-623-27-13z"/><path fill="#89ff76" stroke="#89ff76" d="M6146 2569l28 18-243-618-29-12z"/><path fill="#95ff6a" stroke="#95ff6a" d="M6116 2551l30 18-244-612-29-13z"/><path fill="#a1ff5e" stroke="#a1ff5e" d="M6086 2532l30 19-243-607-31-13z"/><path fill="#a9ff56" stroke="#a9ff56" d="M6054 2512l32 20-244-601-32-13z"/><path fill="#b5ff4a" stroke="#b5ff4a" d="M6020 2491l34 21-244-594-33-13z"/><path fill="#c1ff3e" stroke="#c1ff3e" d="M5986 2470l34 21-243-586-35-13z"/><path fill="#cdff32" stroke="#cdff32" d="M5949 2449l37 21-244-578-36-13z"/><path fill="#d9ff26" stroke="#d9ff26" d="M5911 2426l38 23-243-570-39-14z"/><path fill="#e1ff1e" stroke="#e1ff1e" d="M5891 2415l20 11-244-561-19-6z"/><path fill="#e9ff16" stroke="#e9ff16" d="M5871 2403l20 12-243-556-21-7z"/><path fill="#f1ff0e" stroke="#f1ff0e" d="M5850 2391l21 12-244-551-21-6z"/><path fill="#f5ff0a" stroke="#f5ff0a" d="M5829 2379l21 12-244-545-21-7z"/><path fill="#fdff02" stroke="#fdff02" d="M5807 2367l22 12-244-540-22-6z"/><path fill="#fff900" stroke="#fff900" d="M5784 2355l23 12-244-534-23-7z"/><path fill="#fff100" stroke="#fff100" d="M5760 2342l24 13-244-529-23-6z"/><path fill="#ffe900" stroke="#ffe900" d="M5736 2329l24 13-243-522-24-6z"/><path fill="#ffe500" stroke="#ffe500" d="M5712 2316l24 13-243-515-25-6z"/><path fill="#ffdd00" stroke="#ffdd00" d="M5686 2303l26 13-244-508-26-7z"/><path fill="#ffd500" stroke="#ffd500" d="M5659 2290l27 13-244-502-26-6z"/><path fill="#ffcd00" stroke="#ffcd00" d="M5632 2277l27 13-243-495-28-6z"/><path fill="#ffc500" stroke="#ffc500" d="M5603 2263l29 14-244-488-28-6z"/><path fill="#ffb900" stroke="#ffb900" d="M5574 2249l29 14-243-480-30-5z"/><path fill="#ffb100" stroke="#ffb100" d="M5543 2235l31 14-244-471-31-6z"/><path fill="#ffa900" stroke="#ffa900" d="M5511 2221l32 14-244-463-32-5z"/><path fill="#ffa100" stroke="#ffa100" d="M5478 2207l33 14-244-454-33-5z"/><path fill="#ff9900" stroke="#ff9900" d="M5443 2193l35 14-244-445-35-5z"/><path fill="#ff8d00" stroke="#ff8d00" d="M5407 2179l36 14-244-436-36-5z"/><path fill="#ff8500" stroke="#ff8500" d="M5368 2164l39 15-244-427-38-4z"/><path fill="#ff7a00" stroke="#ff7a00" d="M5328 2150l40 14-243-416-40-4z"/><path fill="#ff7200" stroke="#ff7200" d="M5286 2136l42 14-243-406-43-3z"/><path fill="#ff6600" stroke="#ff6600" d="M5241 2122l45 14-244-395-44-3z"/><path fill="#ff5e00" stroke="#ff5e00" d="M5194 2107l47 15-243-384-48-2z"/><path fill="#ff5200" stroke="#ff5200" d="M5143 2094l51 13-244-371-50-2z"/><path fill="#ff4600" stroke="#ff4600" d="M5089 2080l54 14-243-360-54-1z"/><path fill="#ff3e00" stroke="#ff3e00" d="M5031 2067l58 13-243-347-58 1z"/><path fill="#ff3200" stroke="#ff3200" d="M4969 2055l62 12-243-333-63 1z"/><path fill="#ff2600" stroke="#ff2600" d="M4900 2043l69 12-244-320-68 3z"/><path fill="#ff1a00" stroke="#ff1a00" d="M4826 2033l74 10-243-305-75 5z"/><path fill="#ff0e00" stroke="#ff0e00" d="M4743 2025l83 8-244-290-82 7z"/><path fill="#ff0200" stroke="#ff0200" d="M4651 2019l92 6-243-275-93 10z"/><path fill="#f50000" stroke="#f50000" d="M4547 2016l104 3-244-259-104 14z"/><path fill="#ed0000" stroke="#ed0000" d="M4426 2017l121-1-244-242-121 19z"/><path fill="#e10000" stroke="#e10000" d="M4283 2026l143-9-244-224-142 28z"/><path fill="#d90000" stroke="#d90000" d="M4109 2046l174-20-243-205-175 39z"/><path fill="#d10000" stroke="#d10000" d="M3883 2087l226-41-244-186-225 60z"/><path fill="#d50000" stroke="#d50000" d="M3566 2170l317-83-243-167-318 104z"/><path fill="#f50000" stroke="#f50000" d="M3023 2386l543-216-244-146-542 237z"/><path fill="#0000bd" stroke="#0000bd" d="M7029 3773l16 4-417-901-15-9z"/><path fill="#0000c1" stroke="#0000c1" d="M7005 3768l24 5-416-906-25-15z"/><path fill="#0000c9" stroke="#0000c9" d="M6980 3763l25 5-417-916-25-16z"/><path fill="#0000cd" stroke="#0000cd" d="M6954 3757l26 6-417-927-26-16z"/><path fill="#0000d1" stroke="#0000d1" d="M6927 3751l27 6-417-937-27-17z"/><path fill="#0000d9" stroke="#0000d9" d="M6899 3744l28 7-417-948-27-18z"/><path fill="#0000dd" stroke="#0000dd" d="M6870 3736l29 8-416-959-29-18z"/><path fill="#0000e1" stroke="#0000e1" d="M6851 3731l19 5-416-969-20-13z"/><path fill="#0000e5" stroke="#0000e5" d="M6830 3725l21 6-417-977-20-13z"/><path fill="#0000e9" stroke="#0000e9" d="M6809 3719l21 6-416-984-21-13z"/><path fill="#0000ed" stroke="#0000ed" d="M6788 3713l21 6-416-991-22-14z"/><path fill="#0000f5" stroke="#0000f5" d="M6766 3706l22 7-417-999-22-14z"/><path fill="#0000f9" stroke="#0000f9" d="M6743 3699l23 7-417-1006-23-15z"/><path fill="#0000fd" stroke="#0000fd" d="M6720 3691l23 8-417-1014-23-15z"/><path fill="#0006ff" stroke="#0006ff" d="M6696 3683l24 8-417-1021-24-16z"/><path fill="#000aff" stroke="#000aff" d="M6671 3674l25 9-417-1029-25-16z"/><path fill="#0012ff" stroke="#0012ff" d="M6645 3665l26 9-417-1036-26-16z"/><path fill="#0016ff" stroke="#0016ff" d="M6619 3655l26 10-417-1043-26-17z"/><path fill="#001eff" stroke="#001eff" d="M6591 3645l28 10-417-1050-28-18z"/><path fill="#0026ff" stroke="#0026ff" d="M6563 3634l28 11-417-1058-28-18z"/><path fill="#002eff" stroke="#002eff" d="M6533 3622l30 12-417-1065-30-18z"/><path fill="#0036ff" stroke="#0036ff" d="M6502 3609l31 13-417-1071-30-19z"/><path fill="#003eff" stroke="#003eff" d="M6470 3595l32 14-416-1077-32-20z"/><path fill="#0046ff" stroke="#0046ff" d="M6437 3580l33 15-416-1083-34-21z"/><path fill="#0052ff" stroke="#0052ff" d="M6402 3564l35 16-417-1089-34-21z"/><path fill="#005eff" stroke="#005eff" d="M6366 3547l36 17-416-1094-37-21z"/><path fill="#0066ff" stroke="#0066ff" d="M6328 3528l38 19-417-1098-38-23z"/><path fill="#006eff" stroke="#006eff" d="M6308 3518l20 10-417-1102-20-11z"/><path fill="#0072ff" stroke="#0072ff" d="M6288 3508l20 10-417-1103-20-12z"/><path fill="#007aff" stroke="#007aff" d="M6267 3497l21 11-417-1105-21-12z"/><path fill="#0081ff" stroke="#0081ff" d="M6245 3486l22 11-417-1106-21-12z"/><path fill="#0085ff" stroke="#0085ff" d="M6223 3475l22 11-416-1107-22-12z"/><path fill="#008dff" stroke="#008dff" d="M6200 3462l23 13-416-1108-23-12z"/><path fill="#0095ff" stroke="#0095ff" d="M6177 3450l23 12-416-1107-24-13z"/><path fill="#009dff" stroke="#009dff" d="M6153 3436l24 14-417-1108-24-13z"/><path fill="#00a5ff" stroke="#00a5ff" d="M6128 3423l25 13-417-1107-24-13z"/><path fill="#00adff" stroke="#00adff" d="M6103 3408l25 15-416-1107-26-13z"/><path fill="#00b5ff" stroke="#00b5ff" d="M6076 3393l27 15-417-1105-27-13z"/><path fill="#00bdff" stroke="#00bdff" d="M6049 3377l27 16-417-1103-27-13z"/><path fill="#00c9ff" stroke="#00c9ff" d="M6020 3360l29 17-417-1100-29-14z"/><path fill="#00d1ff" stroke="#00d1ff" d="M5990 3343l30 17-417-1097-29-14z"/><path fill="#00ddff" stroke="#00ddff" d="M5960 3324l30 19-416-1094-31-14z"/><path fill="#00e9ff" stroke="#00e9ff" d="M5928 3305l32 19-417-1089-32-14z"/><path fill="#00f5ff" stroke="#00f5ff" d="M5895 3284l33 21-417-1084-33-14z"/><path fill="#02fffd" stroke="#02fffd" d="M5860 3263l35 21-417-1077-35-14z"/><path fill="#0efff1" stroke="#0efff1" d="M5823 3240l37 23-417-1070-36-14z"/><path fill="#1affe5" stroke="#1affe5" d="M5785 3216l38 24-416-1061-39-15z"/><path fill="#2affd5" stroke="#2affd5" d="M5745 3191l40 25-417-1052-40-14z"/><path fill="#36ffc9" stroke="#36ffc9" d="M5703 3165l42 26-417-1041-42-14z"/><path fill="#46ffb9" stroke="#46ffb9" d="M5658 3136l45 29-417-1029-45-14z"/><path fill="#56ffa9" stroke="#56ffa9" d="M5610 3107l48 29-417-1014-47-15z"/><path fill="#6aff95" stroke="#6aff95" d="M5560 3075l50 32-416-1000-51-13z"/><path fill="#7eff81" stroke="#7eff81" d="M5506 3042l54 33-417-981-54-14z"/><path fill="#91ff6e" stroke="#91ff6e" d="M5448 3006l58 36-417-962-58-13z"/><path fill="#a5ff5a" stroke="#a5ff5a" d="M5385 2968l63 38-417-939-62-12z"/><path fill="#bdff42" stroke="#bdff42" d="M5317 2929l68 39-416-913-69-12z"/><path fill="#d5ff2a" stroke="#d5ff2a" d="M5242 2886l75 43-417-886-74-10z"/><path fill="#edff12" stroke="#edff12" d="M5160 2842l82 44-416-853-83-8z"/><path fill="#fff500" stroke="#fff500" d="M5068 2795l92 47-417-817-92-6z"/><path fill="#ffd500" stroke="#ffd500" d="M4963 2746l105 49-417-776-104-3z"/><path fill="#ffb500" stroke="#ffb500" d="M4843 2696l120 50-416-730-121 1z"/><path fill="#ff9500" stroke="#ff9500" d="M4700 2646l143 50-417-679-143 9z"/><path fill="#ff7200" stroke="#ff7200" d="M4525 2599l175 47-417-620-174 20z"/><path fill="#ff4a00" stroke="#ff4a00" d="M4300 2563l225 36-416-553-226 41z"/><path fill="#ff2a00" stroke="#ff2a00" d="M3983 2559l317 4-417-476-317 83z"/><path fill="#ff2200" stroke="#ff2200" d="M3440 2675l543-116-417-389-543 216z"/></g></g>
<g id="axes"><line x1="67.2" y1="366.1" x2="67.2" y2="111.1" stroke="#6e6e6e" stroke-width="1.2"/><line x1="67.2" y1="366.1" x2="344.0" y2="481.8" stroke="#3a3a3a" stroke-width="1.1"/><line x1="344.0" y1="481.8" x2="704.5" y2="392.7" stroke="#3a3a3a" stroke-width="1.1"/><line x1="67.2" y1="335.4" x2="58.0" y2="331.5" stroke="#3a3a3a" stroke-width="1"/><line x1="67.2" y1="279.2" x2="58.0" y2="275.4" stroke="#3a3a3a" stroke-width="1"/><line x1="67.2" y1="223.0" x2="58.0" y2="219.2" stroke="#3a3a3a" stroke-width="1"/><line x1="67.2" y1="166.8" x2="58.0" y2="163.0" stroke="#3a3a3a" stroke-width="1"/><line x1="302.1" y1="464.3" x2="292.4" y2="466.7" stroke="#3a3a3a" stroke-width="1"/><line x1="398.6" y1="468.3" x2="407.8" y2="472.2" stroke="#3a3a3a" stroke-width="1"/><line x1="242.0" y1="439.2" x2="232.3" y2="441.6" stroke="#3a3a3a" stroke-width="1"/><line x1="476.9" y1="449.0" x2="486.1" y2="452.8" stroke="#3a3a3a" stroke-width="1"/><line x1="181.9" y1="414.0" x2="172.2" y2="416.4" stroke="#3a3a3a" stroke-width="1"/><line x1="555.2" y1="429.6" x2="564.4" y2="433.5" stroke="#3a3a3a" stroke-width="1"/><line x1="121.8" y1="388.9" x2="112.1" y2="391.3" stroke="#3a3a3a" stroke-width="1"/><line x1="633.4" y1="410.3" x2="642.7" y2="414.1" stroke="#3a3a3a" stroke-width="1"/></g>
<g id="text" xml:space="preserve"><text x="383.5" y="17" font-size="19.75" text-anchor="middle" fill="#262626" font-family="Liberation Serif, Times New Roman, serif">Efficiency Comparison: With vs. Without Ferrite</text><text x="52.6" y="168.3" font-size="18" text-anchor="end" fill="#262626" font-family="Liberation Serif, Times New Roman, serif">0.8</text><text x="52.6" y="223.8" font-size="18" text-anchor="end" fill="#262626" font-family="Liberation Serif, Times New Roman, serif">0.6</text><text x="52.6" y="279.5" font-size="18" text-anchor="end" fill="#262626" font-family="Liberation Serif, Times New Roman, serif">0.4</text><text x="52.6" y="335.5" font-size="18" text-anchor="end" fill="#262626" font-family="Liberation Serif, Times New Roman, serif">0.2</text><text x="101" y="409" font-size="18" text-anchor="middle" fill="#262626" font-family="Liberation Serif, Times New Roman, serif">6</text><text x="161" y="434" font-size="18" text-anchor="middle" fill="#262626" font-family="Liberation Serif, Times New Roman, serif">5</text><text x="221" y="459" font-size="18" text-anchor="middle" fill="#262626" font-family="Liberation Serif, Times New Roman, serif">4</text><text x="281" y="484" font-size="18" text-anchor="middle" fill="#262626" font-family="Liberation Serif, Times New Roman, serif">3</text><text x="418" y="491" font-size="18" text-anchor="middle" fill="#262626" font-family="Liberation Serif, Times New Roman, serif">3</text><text x="496" y="472" font-size="18" text-anchor="middle" fill="#262626" font-family="Liberation Serif, Times New Roman, serif">4</text><text x="575" y="452" font-size="18" text-anchor="middle" fill="#262626" font-family="Liberation Serif, Times New Roman, serif">5</text><text x="653" y="433.5" font-size="18" text-anchor="middle" fill="#262626" font-family="Liberation Serif, Times New Roman, serif">6</text><text x="193.5" y="499" font-size="19.75" text-anchor="middle" fill="#262626" font-family="Liberation Serif, Times New Roman, serif">log(FOM)</text><text x="477.5" y="505" font-size="19.75" fill="#262626" font-family="Liberation Serif, Times New Roman, serif">log(r<tspan font-size="13" dy="5">d</tspan><tspan dy="-5">)</tspan></text><text transform="translate(16.4,295) rotate(-90)" font-size="19.1" fill="#262626" font-family="Liberation Serif, Times New Roman, serif">Efficiency</text><text transform="translate(16.4,205.6) rotate(-90)" font-size="19.75" letter-spacing="1.6" fill="#262626" font-family="Liberation Serif, Times New Roman, serif">(<tspan font-style="italic">η</tspan>)</text><text x="600.5" y="157.5" font-size="17.75" fill="#262626" font-family="Liberation Serif, Times New Roman, serif">With Ferrite</text><text x="279.5" y="352" font-size="17.95" fill="#262626" font-family="Liberation Serif, Times New Roman, serif">Without Ferrite</text></g>
<g id="arrows"><line x1="643.9" y1="162.4" x2="614.9" y2="215.0" stroke="#2a2a2a" stroke-width="1.0"/><polygon points="609.6,224.6 611.7,209.1 614.9,215.0 621.6,214.6" fill="#1c1c1c"/><line x1="390.0" y1="336.0" x2="440.4" y2="296.3" stroke="#2a2a2a" stroke-width="1.0"/><polygon points="449.0,289.5 441.1,303.0 440.4,296.3 434.0,294.1" fill="#1c1c1c"/></g>
<g id="colorbar"><defs><linearGradient id="jet" x1="0" y1="1" x2="0" y2="0"><stop offset="0.0000" stop-color="#000080"/><stop offset="0.0156" stop-color="#00008f"/><stop offset="0.0312" stop-color="#00009f"/><stop offset="0.0469" stop-color="#0000af"/><stop offset="0.0625" stop-color="#0000bf"/><stop offset="0.0781" stop-color="#0000cf"/><stop offset="0.0938" stop-color="#0000df"/><stop offset="0.1094" stop-color="#0000ef"/><stop offset="0.1250" stop-color="#0000ff"/><stop offset="0.1406" stop-color="#0010ff"/><stop offset="0.1562" stop-color="#0020ff"/><stop offset="0.1719" stop-color="#0030ff"/><stop offset="0.1875" stop-color="#0040ff"/><stop offset="0.2031" stop-color="#0050ff"/><stop offset="0.2188" stop-color="#0060ff"/><stop offset="0.2344" stop-color="#0070ff"/><stop offset="0.2500" stop-color="#0080ff"/><stop offset="0.2656" stop-color="#008fff"/><stop offset="0.2812" stop-color="#009fff"/><stop offset="0.2969" stop-color="#00afff"/><stop offset="0.3125" stop-color="#00bfff"/><stop offset="0.3281" stop-color="#00cfff"/><stop offset="0.3438" stop-color="#00dfff"/><stop offset="0.3594" stop-color="#00efff"/><stop offset="0.3750" stop-color="#00ffff"/><stop offset="0.3906" stop-color="#10ffef"/><stop offset="0.4062" stop-color="#20ffdf"/><stop offset="0.4219" stop-color="#30ffcf"/><stop offset="0.4375" stop-color="#40ffbf"/><stop offset="0.4531" stop-color="#50ffaf"/><stop offset="0.4688" stop-color="#60ff9f"/><stop offset="0.4844" stop-color="#70ff8f"/><stop offset="0.5000" stop-color="#80ff80"/><stop offset="0.5156" stop-color="#8fff70"/><stop offset="0.5312" stop-color="#9fff60"/><stop offset="0.5469" stop-color="#afff50"/><stop offset="0.5625" stop-color="#bfff40"/><stop offset="0.5781" stop-color="#cfff30"/><stop offset="0.5938" stop-color="#dfff20"/><stop offset="0.6094" stop-color="#efff10"/><stop offset="0.6250" stop-color="#ffff00"/><stop offset="0.6406" stop-color="#ffef00"/><stop offset="0.6562" stop-color="#ffdf00"/><stop offset="0.6719" stop-color="#ffcf00"/><stop offset="0.6875" stop-color="#ffbf00"/><stop offset="0.7031" stop-color="#ffaf00"/><stop offset="0.7188" stop-color="#ff9f00"/><stop offset="0.7344" stop-color="#ff8f00"/><stop offset="0.7500" stop-color="#ff8000"/><stop offset="0.7656" stop-color="#ff7000"/><stop offset="0.7812" stop-color="#ff6000"/><stop offset="0.7969" stop-color="#ff5000"/><stop offset="0.8125" stop-color="#ff4000"/><stop offset="0.8281" stop-color="#ff3000"/><stop offset="0.8438" stop-color="#ff2000"/><stop offset="0.8594" stop-color="#ff1000"/><stop offset="0.8750" stop-color="#ff0000"/><stop offset="0.8906" stop-color="#ef0000"/><stop offset="0.9062" stop-color="#df0000"/><stop offset="0.9219" stop-color="#cf0000"/><stop offset="0.9375" stop-color="#bf0000"/><stop offset="0.9531" stop-color="#af0000"/><stop offset="0.9688" stop-color="#9f0000"/><stop offset="0.9844" stop-color="#8f0000"/><stop offset="1.0000" stop-color="#800000"/></linearGradient></defs><rect x="747.5" y="22" width="25" height="460" fill="url(#jet)" stroke="#333" stroke-width="0.8"/><line x1="769" y1="477.3" x2="772.5" y2="477.3" stroke="#333" stroke-width="0.8"/><text x="779" y="482.7" font-size="14.5" fill="#262626" font-family="Liberation Serif, Times New Roman, serif">0.1</text><line x1="769" y1="426.6" x2="772.5" y2="426.6" stroke="#333" stroke-width="0.8"/><text x="779" y="432.0" font-size="14.5" fill="#262626" font-family="Liberation Serif, Times New Roman, serif">0.2</text><line x1="769" y1="375.9" x2="772.5" y2="375.9" stroke="#333" stroke-width="0.8"/><text x="779" y="381.3" font-size="14.5" fill="#262626" font-family="Liberation Serif, Times New Roman, serif">0.3</text><line x1="769" y1="325.3" x2="772.5" y2="325.3" stroke="#333" stroke-width="0.8"/><text x="779" y="330.7" font-size="14.5" fill="#262626" font-family="Liberation Serif, Times New Roman, serif">0.4</text><line x1="769" y1="274.6" x2="772.5" y2="274.6" stroke="#333" stroke-width="0.8"/><text x="779" y="280.0" font-size="14.5" fill="#262626" font-family="Liberation Serif, Times New Roman, serif">0.5</text><line x1="769" y1="223.9" x2="772.5" y2="223.9" stroke="#333" stroke-width="0.8"/><text x="779" y="229.3" font-size="14.5" fill="#262626" font-family="Liberation Serif, Times New Roman, serif">0.6</text><line x1="769" y1="173.2" x2="772.5" y2="173.2" stroke="#333" stroke-width="0.8"/><text x="779" y="178.6" font-size="14.5" fill="#262626" font-family="Liberation Serif, Times New Roman, serif">0.7</text><line x1="769" y1="122.6" x2="772.5" y2="122.6" stroke="#333" stroke-width="0.8"/><text x="779" y="128.0" font-size="14.5" fill="#262626" font-family="Liberation Serif, Times New Roman, serif">0.8</text><line x1="769" y1="71.9" x2="772.5" y2="71.9" stroke="#333" stroke-width="0.8"/><text x="779" y="77.3" font-size="14.5" fill="#262626" font-family="Liberation Serif, Times New Roman, serif">0.9</text></g>
</svg>
</body></html>
